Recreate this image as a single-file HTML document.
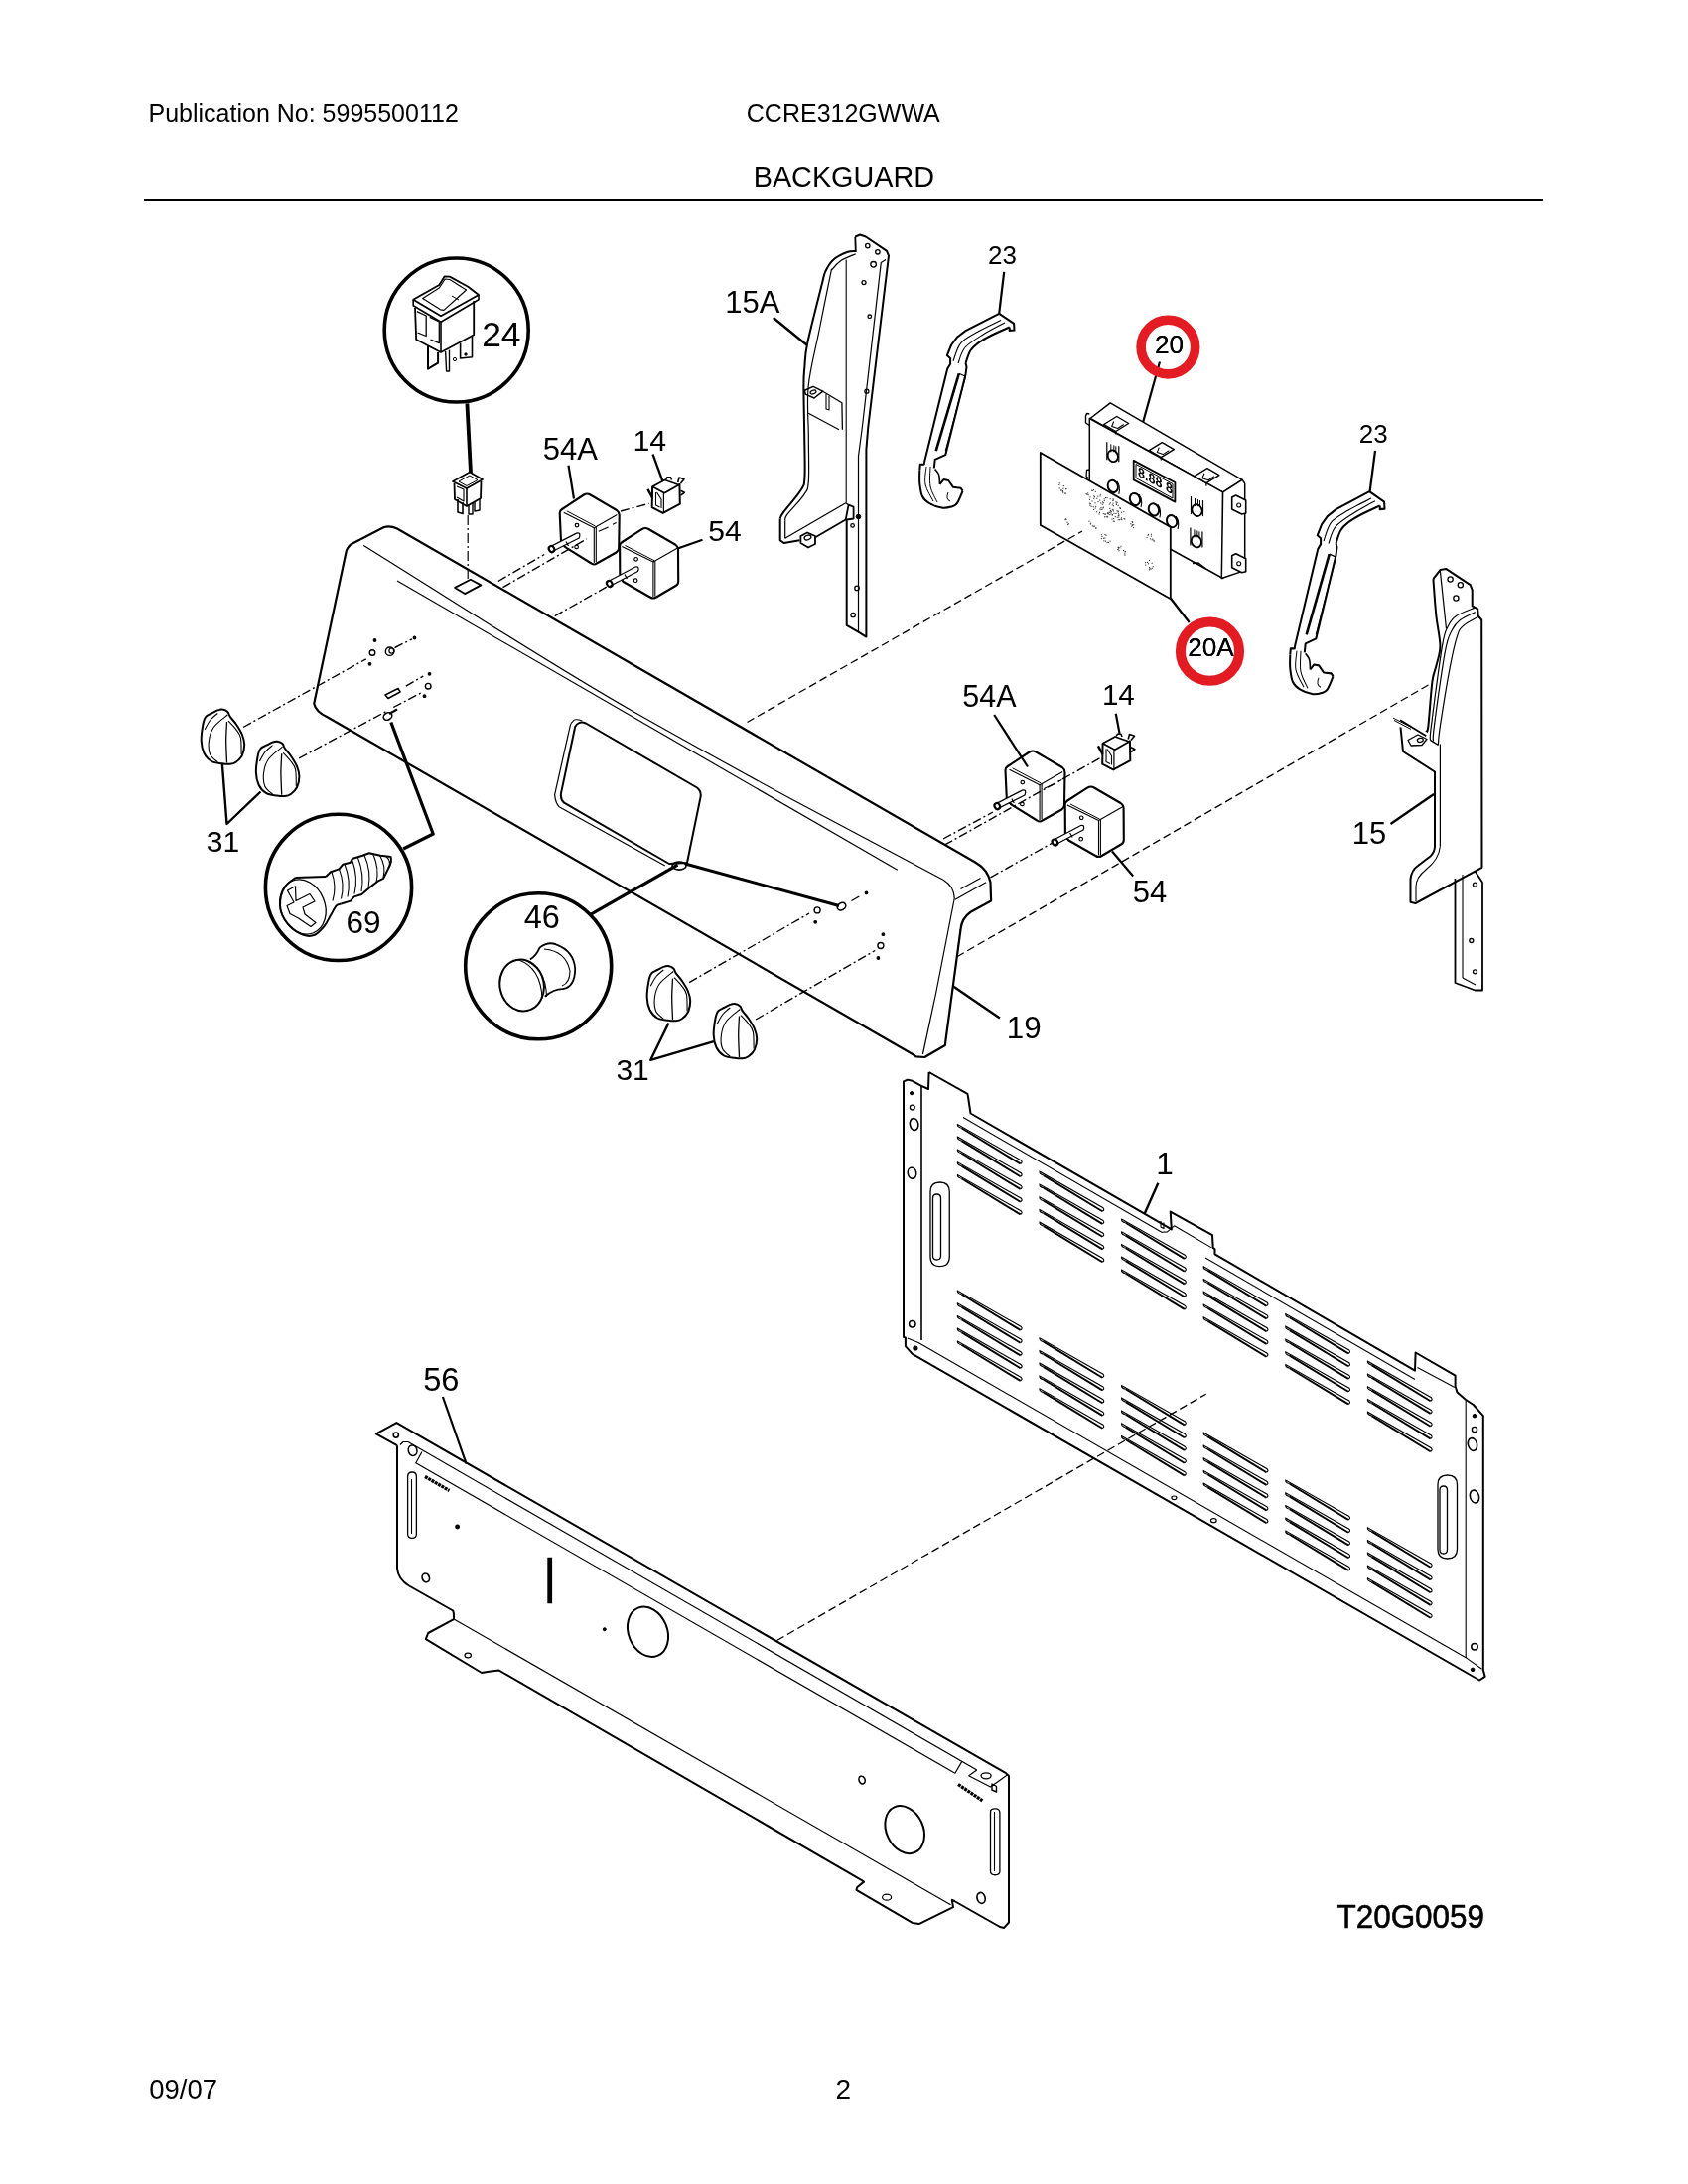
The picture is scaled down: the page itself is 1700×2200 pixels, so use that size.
<!DOCTYPE html>
<html><head><meta charset="utf-8"><title>Backguard</title>
<style>
html,body{margin:0;padding:0;background:#fff;}
body{width:1700px;height:2200px;overflow:hidden;}
svg{display:block;}
text{font-family:"Liberation Sans",sans-serif;}
svg{will-change:transform;}
</style></head><body>
<svg width="1700" height="2200" viewBox="0 0 1700 2200">
<rect x="0" y="0" width="1700" height="2200" fill="#fff"/>
<text x="149.5" y="123.0" font-size="25" font-weight="normal" fill="#000">Publication No: 5995500112</text>
<text x="751.8" y="123.0" font-size="25" font-weight="normal" fill="#000">CCRE312GWWA</text>
<text x="758.7" y="188.2" font-size="28.8" font-weight="normal" fill="#000">BACKGUARD</text>
<rect x="145" y="200" width="1409" height="2" fill="#000"/>
<text x="150.2" y="2114.0" font-size="27.5" font-weight="normal" fill="#000">09/07</text>
<text x="841.6" y="2114.0" font-size="28" font-weight="normal" fill="#000">2</text>
<text x="1346.5" y="1941.6" font-size="33.5" textLength="148.5" lengthAdjust="spacingAndGlyphs" stroke="#000" stroke-width="0.6" fill="#000">T20G0059</text>
<text x="485.2" y="348.6" font-size="35.4" font-weight="normal" fill="#000">24</text>
<text x="730.3" y="315.0" font-size="31" font-weight="normal" fill="#000">15A</text>
<text x="546.8" y="462.5" font-size="31" font-weight="normal" fill="#000">54A</text>
<text x="637.4" y="454.0" font-size="30.3" font-weight="normal" fill="#000">14</text>
<text x="713.3" y="545.0" font-size="30" font-weight="normal" fill="#000">54</text>
<text x="995.0" y="266.2" font-size="26" font-weight="normal" fill="#000">23</text>
<text x="1162.9" y="355.7" font-size="26.2" font-weight="normal" fill="#000">20</text>
<text x="1368.7" y="446.2" font-size="26" font-weight="normal" fill="#000">23</text>
<text x="1196.2" y="661.4" font-size="26.2" font-weight="normal" fill="#000">20A</text>
<text x="969.3" y="712.0" font-size="30.5" font-weight="normal" fill="#000">54A</text>
<text x="1109.9" y="709.5" font-size="29.6" font-weight="normal" fill="#000">14</text>
<text x="1140.8" y="908.8" font-size="31" font-weight="normal" fill="#000">54</text>
<text x="1361.8" y="850.0" font-size="31" font-weight="normal" fill="#000">15</text>
<text x="207.8" y="857.5" font-size="30" font-weight="normal" fill="#000">31</text>
<text x="348.4" y="940.0" font-size="31.5" font-weight="normal" fill="#000">69</text>
<text x="527.8" y="934.9" font-size="32.5" font-weight="normal" fill="#000">46</text>
<text x="1013.8" y="1045.6" font-size="31.4" font-weight="normal" fill="#000">19</text>
<text x="620.4" y="1087.5" font-size="30" font-weight="normal" fill="#000">31</text>
<text x="1164.3" y="1182.8" font-size="31.5" font-weight="normal" fill="#000">1</text>
<text x="426.2" y="1400.9" font-size="32.7" font-weight="normal" fill="#000">56</text>
<circle cx="459.7" cy="332.5" r="72.5" fill="none" stroke="#000" stroke-width="3.6"/>
<circle cx="341.0" cy="893.9" r="73.6" fill="none" stroke="#000" stroke-width="3.6"/>
<circle cx="542.2" cy="973.3" r="73.5" fill="none" stroke="#000" stroke-width="3.6"/>
<path d="M400,532.5 L982.5,868.75 Q995,876 997.5,888.75 L998.1,907.5 L977.5,918.75 Q968.5,925 967.5,936.25 L952.5,1047.5 L951.9,1053 L931.25,1065 L922.5,1064.4 L920,1062.5 L330,722.5 Q318,717 316.25,708.75 L348.75,555 Q351,549.5 355,547.5 L386.3,531.3 Q392.5,529 400,532.5 Z" fill="none" stroke="#000" stroke-width="2.2" stroke-linejoin="round" />
<path d="M366.3,549.4 C470,614 562,674 640,718 S762,786 800,806.5 L950,886.25 Q961,893 961.25,905 L942.5,1001 L929.4,1062" fill="none" stroke="#000" stroke-width="1.2" stroke-linejoin="round" />
<line x1="400.0" y1="585.0" x2="903.8" y2="876.2" stroke="#000" stroke-width="1.2" />
<line x1="967.5" y1="895.6" x2="987.5" y2="884.4" stroke="#000" stroke-width="1.2" />
<line x1="961.9" y1="906.2" x2="993.0" y2="888.8" stroke="#000" stroke-width="1.2" />
<path d="M583.2,728.1 Q586,726.5 590,728.5 L702,793.5 Q706.5,797 705.6,802.6 L692,869 L673.9,870 L568.1,808.7 Q564,805 565.1,798.6 L579.2,732 Q580.5,729 583.2,728.1 Z" fill="none" stroke="#000" stroke-width="2.0" stroke-linejoin="round" />
<path d="M586.3,726 Q579,723.5 577.2,726.1 Q575,728 574.2,731.1 L558.6,800.6 Q559.5,809 563.1,812.7 L669.8,872.1" fill="none" stroke="#000" stroke-width="1.2" stroke-linejoin="round" />
<g transform="translate(0,0)">
<path d="M223.9,769.3 C220.8,768.8 216.2,768.8 213.1,767.0 C210.0,765.2 207.1,762.0 205.4,758.5 C203.7,755.0 202.9,750.8 202.7,746.2 C202.5,741.6 203.5,734.8 204.2,730.8 C204.9,726.8 205.4,724.3 206.9,722.3 C208.4,720.2 211.0,719.6 213.1,718.5 C215.2,717.4 217.5,716.0 219.3,715.4 C221.1,714.8 222.2,714.4 223.9,714.6 C225.6,714.9 228.0,715.7 229.3,716.9 C230.6,718.1 230.2,719.5 231.6,721.6 C233.0,723.7 235.6,726.2 237.7,729.3 C239.8,732.4 242.5,736.5 243.9,740.0 C245.3,743.5 246.2,746.5 246.2,750.0 C246.2,753.5 245.3,757.8 243.9,760.8 C242.5,763.8 239.8,766.3 237.7,767.8 C235.6,769.3 233.9,769.5 231.6,769.7 C229.3,770.0 227.0,769.8 223.9,769.3 Z" fill="#fff" stroke="#000" stroke-width="2.0" stroke-linejoin="round" />
<path d="M229.3,720.0 C227.0,722.0 218.6,727.9 215.4,732.3 C212.2,736.7 211.0,741.6 210.4,746.2 C209.8,750.8 210.1,756.4 211.6,760.0 C213.1,763.6 218.0,766.5 219.3,767.8 " fill="none" stroke="#000" stroke-width="1.1" stroke-linejoin="round" />
<path d="M228.5,727.0 C228.4,730.2 227.7,739.3 227.7,746.2 C227.7,753.1 228.4,764.8 228.5,768.5 " fill="none" stroke="#000" stroke-width="1.3" stroke-linejoin="round" />
<path d="M230.0,726.2 C231.3,727.6 235.6,731.9 237.7,734.7 C239.8,737.5 241.5,738.9 242.4,743.1 C243.3,747.3 243.0,757.2 243.1,760.0 " fill="none" stroke="#000" stroke-width="1.1" stroke-linejoin="round" />
<path d="M206.2,734.7 C207.2,733.1 209.8,727.7 212.0,725.0 C214.2,722.3 218.1,719.6 219.3,718.5 " fill="none" stroke="#000" stroke-width="1.1" stroke-linejoin="round" />
</g>
<g transform="translate(55.2,32.2)">
<path d="M223.9,769.3 C220.8,768.8 216.2,768.8 213.1,767.0 C210.0,765.2 207.1,762.0 205.4,758.5 C203.7,755.0 202.9,750.8 202.7,746.2 C202.5,741.6 203.5,734.8 204.2,730.8 C204.9,726.8 205.4,724.3 206.9,722.3 C208.4,720.2 211.0,719.6 213.1,718.5 C215.2,717.4 217.5,716.0 219.3,715.4 C221.1,714.8 222.2,714.4 223.9,714.6 C225.6,714.9 228.0,715.7 229.3,716.9 C230.6,718.1 230.2,719.5 231.6,721.6 C233.0,723.7 235.6,726.2 237.7,729.3 C239.8,732.4 242.5,736.5 243.9,740.0 C245.3,743.5 246.2,746.5 246.2,750.0 C246.2,753.5 245.3,757.8 243.9,760.8 C242.5,763.8 239.8,766.3 237.7,767.8 C235.6,769.3 233.9,769.5 231.6,769.7 C229.3,770.0 227.0,769.8 223.9,769.3 Z" fill="#fff" stroke="#000" stroke-width="2.0" stroke-linejoin="round" />
<path d="M229.3,720.0 C227.0,722.0 218.6,727.9 215.4,732.3 C212.2,736.7 211.0,741.6 210.4,746.2 C209.8,750.8 210.1,756.4 211.6,760.0 C213.1,763.6 218.0,766.5 219.3,767.8 " fill="none" stroke="#000" stroke-width="1.1" stroke-linejoin="round" />
<path d="M228.5,727.0 C228.4,730.2 227.7,739.3 227.7,746.2 C227.7,753.1 228.4,764.8 228.5,768.5 " fill="none" stroke="#000" stroke-width="1.3" stroke-linejoin="round" />
<path d="M230.0,726.2 C231.3,727.6 235.6,731.9 237.7,734.7 C239.8,737.5 241.5,738.9 242.4,743.1 C243.3,747.3 243.0,757.2 243.1,760.0 " fill="none" stroke="#000" stroke-width="1.1" stroke-linejoin="round" />
<path d="M206.2,734.7 C207.2,733.1 209.8,727.7 212.0,725.0 C214.2,722.3 218.1,719.6 219.3,718.5 " fill="none" stroke="#000" stroke-width="1.1" stroke-linejoin="round" />
</g>
<g transform="translate(449,258.5)">
<path d="M223.9,769.3 C220.8,768.8 216.2,768.8 213.1,767.0 C210.0,765.2 207.1,762.0 205.4,758.5 C203.7,755.0 202.9,750.8 202.7,746.2 C202.5,741.6 203.5,734.8 204.2,730.8 C204.9,726.8 205.4,724.3 206.9,722.3 C208.4,720.2 211.0,719.6 213.1,718.5 C215.2,717.4 217.5,716.0 219.3,715.4 C221.1,714.8 222.2,714.4 223.9,714.6 C225.6,714.9 228.0,715.7 229.3,716.9 C230.6,718.1 230.2,719.5 231.6,721.6 C233.0,723.7 235.6,726.2 237.7,729.3 C239.8,732.4 242.5,736.5 243.9,740.0 C245.3,743.5 246.2,746.5 246.2,750.0 C246.2,753.5 245.3,757.8 243.9,760.8 C242.5,763.8 239.8,766.3 237.7,767.8 C235.6,769.3 233.9,769.5 231.6,769.7 C229.3,770.0 227.0,769.8 223.9,769.3 Z" fill="#fff" stroke="#000" stroke-width="2.0" stroke-linejoin="round" />
<path d="M229.3,720.0 C227.0,722.0 218.6,727.9 215.4,732.3 C212.2,736.7 211.0,741.6 210.4,746.2 C209.8,750.8 210.1,756.4 211.6,760.0 C213.1,763.6 218.0,766.5 219.3,767.8 " fill="none" stroke="#000" stroke-width="1.1" stroke-linejoin="round" />
<path d="M228.5,727.0 C228.4,730.2 227.7,739.3 227.7,746.2 C227.7,753.1 228.4,764.8 228.5,768.5 " fill="none" stroke="#000" stroke-width="1.3" stroke-linejoin="round" />
<path d="M230.0,726.2 C231.3,727.6 235.6,731.9 237.7,734.7 C239.8,737.5 241.5,738.9 242.4,743.1 C243.3,747.3 243.0,757.2 243.1,760.0 " fill="none" stroke="#000" stroke-width="1.1" stroke-linejoin="round" />
<path d="M206.2,734.7 C207.2,733.1 209.8,727.7 212.0,725.0 C214.2,722.3 218.1,719.6 219.3,718.5 " fill="none" stroke="#000" stroke-width="1.1" stroke-linejoin="round" />
</g>
<g transform="translate(516,296.5)">
<path d="M223.9,769.3 C220.8,768.8 216.2,768.8 213.1,767.0 C210.0,765.2 207.1,762.0 205.4,758.5 C203.7,755.0 202.9,750.8 202.7,746.2 C202.5,741.6 203.5,734.8 204.2,730.8 C204.9,726.8 205.4,724.3 206.9,722.3 C208.4,720.2 211.0,719.6 213.1,718.5 C215.2,717.4 217.5,716.0 219.3,715.4 C221.1,714.8 222.2,714.4 223.9,714.6 C225.6,714.9 228.0,715.7 229.3,716.9 C230.6,718.1 230.2,719.5 231.6,721.6 C233.0,723.7 235.6,726.2 237.7,729.3 C239.8,732.4 242.5,736.5 243.9,740.0 C245.3,743.5 246.2,746.5 246.2,750.0 C246.2,753.5 245.3,757.8 243.9,760.8 C242.5,763.8 239.8,766.3 237.7,767.8 C235.6,769.3 233.9,769.5 231.6,769.7 C229.3,770.0 227.0,769.8 223.9,769.3 Z" fill="#fff" stroke="#000" stroke-width="2.0" stroke-linejoin="round" />
<path d="M229.3,720.0 C227.0,722.0 218.6,727.9 215.4,732.3 C212.2,736.7 211.0,741.6 210.4,746.2 C209.8,750.8 210.1,756.4 211.6,760.0 C213.1,763.6 218.0,766.5 219.3,767.8 " fill="none" stroke="#000" stroke-width="1.1" stroke-linejoin="round" />
<path d="M228.5,727.0 C228.4,730.2 227.7,739.3 227.7,746.2 C227.7,753.1 228.4,764.8 228.5,768.5 " fill="none" stroke="#000" stroke-width="1.3" stroke-linejoin="round" />
<path d="M230.0,726.2 C231.3,727.6 235.6,731.9 237.7,734.7 C239.8,737.5 241.5,738.9 242.4,743.1 C243.3,747.3 243.0,757.2 243.1,760.0 " fill="none" stroke="#000" stroke-width="1.1" stroke-linejoin="round" />
<path d="M206.2,734.7 C207.2,733.1 209.8,727.7 212.0,725.0 C214.2,722.3 218.1,719.6 219.3,718.5 " fill="none" stroke="#000" stroke-width="1.1" stroke-linejoin="round" />
</g>
<polyline points="223.9,770.0 228.5,830.0 262.5,797.5" fill="none" stroke="#000" stroke-width="2.4" stroke-linejoin="round" />
<polyline points="673.4,1030.5 655.3,1067.8 718.8,1049.1" fill="none" stroke="#000" stroke-width="2.4" stroke-linejoin="round" />
<line x1="245.0" y1="732.5" x2="368.8" y2="663.8" stroke="#000" stroke-width="1.4" stroke-dasharray="9,3,2,3"/>
<line x1="301.2" y1="763.8" x2="390.0" y2="716.0" stroke="#000" stroke-width="1.4" stroke-dasharray="9,3,2,3"/>
<line x1="397.5" y1="652.5" x2="415.0" y2="643.8" stroke="#000" stroke-width="1.4" stroke-dasharray="9,3,2,3"/>
<line x1="408.8" y1="691.2" x2="426.2" y2="681.2" stroke="#000" stroke-width="1.4" stroke-dasharray="9,3,2,3"/>
<line x1="396.2" y1="712.5" x2="425.0" y2="697.5" stroke="#000" stroke-width="1.4" stroke-dasharray="9,3,2,3"/>
<line x1="694.1" y1="989.7" x2="815.0" y2="920.0" stroke="#000" stroke-width="1.4" stroke-dasharray="9,3,2,3"/>
<line x1="761.1" y1="1027.0" x2="881.2" y2="957.5" stroke="#000" stroke-width="1.4" stroke-dasharray="9,3,2,3"/>
<line x1="857.5" y1="907.5" x2="866.2" y2="902.5" stroke="#000" stroke-width="1.4" stroke-dasharray="9,3,2,3"/>
<circle cx="377.5" cy="645.0" r="1.3" fill="#000" stroke="#000" stroke-width="1.2"/>
<circle cx="372.5" cy="668.8" r="1.3" fill="#000" stroke="#000" stroke-width="1.2"/>
<circle cx="417.5" cy="642.5" r="1.3" fill="#000" stroke="#000" stroke-width="1.2"/>
<circle cx="432.5" cy="678.8" r="1.3" fill="#000" stroke="#000" stroke-width="1.2"/>
<circle cx="427.5" cy="701.2" r="1.3" fill="#000" stroke="#000" stroke-width="1.2"/>
<circle cx="872.5" cy="899.4" r="1.3" fill="#000" stroke="#000" stroke-width="1.2"/>
<circle cx="821.2" cy="928.8" r="1.3" fill="#000" stroke="#000" stroke-width="1.2"/>
<circle cx="889.4" cy="941.2" r="1.3" fill="#000" stroke="#000" stroke-width="1.2"/>
<circle cx="884.4" cy="965.0" r="1.3" fill="#000" stroke="#000" stroke-width="1.2"/>
<circle cx="375.0" cy="657.5" r="2.8" fill="none" stroke="#000" stroke-width="1.4"/>
<circle cx="431.2" cy="691.2" r="2.8" fill="none" stroke="#000" stroke-width="1.4"/>
<circle cx="823.1" cy="916.9" r="3.0" fill="none" stroke="#000" stroke-width="1.4"/>
<circle cx="886.9" cy="952.5" r="3.0" fill="none" stroke="#000" stroke-width="1.4"/>
<circle cx="392.5" cy="656.2" r="4.2" fill="none" stroke="#000" stroke-width="1.4"/>
<circle cx="394.5" cy="655.6" r="2.6" fill="none" stroke="#000" stroke-width="1.2"/>
<path d="M388,700 L401,693.5 L403,697 L391,703.5 Z" fill="none" stroke="#000" stroke-width="1.6" stroke-linejoin="round" />
<ellipse cx="390.5" cy="721.5" rx="4.5" ry="3.5" transform="rotate(-30 390.5 721.5)" fill="none" stroke="#000" stroke-width="1.6"/>
<path d="M392,719 L400,714.5" fill="none" stroke="#000" stroke-width="2.2" stroke-linejoin="round" />
<ellipse cx="847.5" cy="913.1" rx="4.5" ry="3.5" transform="rotate(-30 847.5 913.1)" fill="none" stroke="#000" stroke-width="1.6"/>
<ellipse cx="684.0" cy="872.1" rx="7.0" ry="4.0" transform="rotate(0 684.0 872.1)" fill="none" stroke="#000" stroke-width="1.6"/>
<polyline points="470.4,406.4 474.0,476.0" fill="none" stroke="#000" stroke-width="3.8" stroke-linejoin="round" />
<polyline points="406.2,855.0 436.2,840.0 393.8,727.5" fill="none" stroke="#000" stroke-width="3.2" stroke-linejoin="round" />
<polyline points="595.0,921.2 682.5,871.2" fill="none" stroke="#000" stroke-width="3.2" stroke-linejoin="round" />
<polyline points="690.0,870.0 845.0,912.5" fill="none" stroke="#000" stroke-width="3.0" stroke-linejoin="round" />
<path d="M297.9,883.9 C296.2,885.2 290.5,888.7 288.0,892.0 C285.5,895.3 283.5,899.3 282.7,903.8 C281.9,908.3 281.6,914.1 283.2,919.0 C284.8,923.9 288.3,929.2 292.0,933.0 C295.7,936.8 301.4,940.3 305.5,941.8 C309.6,943.3 313.4,943.2 316.9,941.8 C320.4,940.4 323.7,936.5 326.4,933.2 C329.1,929.9 330.9,925.5 333.0,922.0 C335.1,918.5 337.0,914.3 338.7,912.4 C340.4,910.5 342.6,910.8 343.4,910.5 " fill="none" stroke="#000" stroke-width="2.0" stroke-linejoin="round" />
<line x1="297.9" y1="883.9" x2="328.2" y2="883.0" stroke="#000" stroke-width="2.0" />
<ellipse cx="305.0" cy="913.5" rx="22.3" ry="28.3" transform="rotate(-22 305.0 913.5)" fill="none" stroke="#000" stroke-width="1.3"/>
<polygon points="289.5,897.0 297.5,892.8 298.0,907.5 312.0,900.5 317.0,908.0 305.0,914.0 307.0,921.0 318.0,929.5 313.0,933.5 300.5,925.0 292.0,920.5 289.0,912.5 296.0,909.0" fill="none" stroke="#000" stroke-width="1.2" stroke-linejoin="round" />
<polyline points="328.2,883.0 333.0,878.2 341.5,875.4 345.3,870.7 352.9,868.8 354.8,865.0 365.2,861.7 371.8,859.3 383.2,861.7 393.6,863.1 394.1,866.9" fill="none" stroke="#000" stroke-width="2.0" stroke-linejoin="round" />
<polyline points="394.1,866.9 392.7,871.6 386.1,884.9 380.4,887.7 371.8,894.4 364.3,901.0 356.7,903.4 352.9,907.6 343.4,910.5" fill="none" stroke="#000" stroke-width="2.0" stroke-linejoin="round" />
<path d="M333.9,878.0 Q339.4,892.8 335.0,907.5" fill="none" stroke="#000" stroke-width="1.1" stroke-linejoin="round" />
<path d="M341.5,875.4 Q347.5,890.5 343.5,905.5" fill="none" stroke="#000" stroke-width="1.1" stroke-linejoin="round" />
<path d="M347.2,871.0 Q353.6,887.2 350.0,903.5" fill="none" stroke="#000" stroke-width="1.1" stroke-linejoin="round" />
<path d="M354.8,866.5 Q360.9,883.5 357.0,900.5" fill="none" stroke="#000" stroke-width="1.1" stroke-linejoin="round" />
<path d="M360.5,864.0 Q367.2,881.0 364.0,898.0" fill="none" stroke="#000" stroke-width="1.1" stroke-linejoin="round" />
<path d="M367.1,861.5 Q374.1,877.8 371.0,894.0" fill="none" stroke="#000" stroke-width="1.1" stroke-linejoin="round" />
<path d="M375.6,860.0 Q382.3,874.5 379.0,889.0" fill="none" stroke="#000" stroke-width="1.1" stroke-linejoin="round" />
<path d="M382.3,861.3 Q389.1,872.6 386.0,884.0" fill="none" stroke="#000" stroke-width="1.1" stroke-linejoin="round" />
<path d="M388.9,862.5 Q394.9,868.2 391.0,874.0" fill="none" stroke="#000" stroke-width="1.1" stroke-linejoin="round" />
<path d="M533.9,966.4 Q540,963 543.5,954.6 Q552,948 560,951.4 Q578,958 579.2,976 Q579,994 567,996.2 Q558,996 548.8,1003.7" fill="none" stroke="#000" stroke-width="1.8" stroke-linejoin="round" />
<path d="M548,956 Q570,958 574,978 Q574,990 566,993" fill="none" stroke="#000" stroke-width="1.1" stroke-linejoin="round" />
<ellipse cx="525.6" cy="992.5" rx="22.1" ry="26.1" transform="rotate(-12 525.6 992.5)" fill="#fff" stroke="#000" stroke-width="2.0"/>
<path d="M522,966.8 Q545,975 546,1006" fill="none" stroke="#000" stroke-width="1.1" stroke-linejoin="round" />
<path d="M527,966.5 Q550,975 550.5,1004" fill="none" stroke="#000" stroke-width="1.1" stroke-linejoin="round" />
<polygon points="416.2,301.8 442.3,287.0 447.6,278.5 452.9,278.6 471.3,288.7 482.0,297.0 444.0,318.3" fill="none" stroke="#000" stroke-width="1.8" stroke-linejoin="round" />
<polygon points="425.7,300.6 442.3,290.0 448.2,281.0 452.9,281.5 469.5,292.0 447.0,312.4 443.5,311.8" fill="none" stroke="#000" stroke-width="1.2" stroke-linejoin="round" />
<line x1="455.0" y1="298.0" x2="462.0" y2="302.0" stroke="#000" stroke-width="1.0" />
<polyline points="416.2,301.8 416.2,307.7 444.0,324.3 482.0,301.8 482.0,297.0" fill="none" stroke="#000" stroke-width="1.6" stroke-linejoin="round" />
<polyline points="418.0,310.0 419.2,342.0 444.0,355.0 477.2,337.3 477.2,303.0" fill="none" stroke="#000" stroke-width="1.8" stroke-linejoin="round" />
<line x1="444.0" y1="324.3" x2="444.0" y2="355.0" stroke="#000" stroke-width="1.6" />
<polyline points="419.8,313.6 429.2,318.0 429.2,338.5 420.5,335.0" fill="none" stroke="#000" stroke-width="1.3" stroke-linejoin="round" />
<polyline points="432.8,319.3 442.3,324.0 442.3,345.6 433.5,342.0" fill="none" stroke="#000" stroke-width="1.3" stroke-linejoin="round" />
<polyline points="431.0,349.1 431.0,371.7 441.1,365.7 441.1,355.0" fill="none" stroke="#000" stroke-width="2.0" stroke-linejoin="round" />
<polyline points="448.6,354.0 449.6,374.0 452.5,374.0 452.5,352.5" fill="none" stroke="#000" stroke-width="1.4" stroke-linejoin="round" />
<polyline points="463.6,345.6 463.6,361.0 475.5,359.8 475.5,338.5" fill="none" stroke="#000" stroke-width="1.6" stroke-linejoin="round" />
<circle cx="469.0" cy="357.0" r="1.2" fill="#000" stroke="#000" stroke-width="1.0"/>
<circle cx="458.0" cy="362.0" r="1.6" fill="none" stroke="#000" stroke-width="1.0"/>
<polygon points="456.0,485.0 473.0,475.5 486.0,483.0 470.0,492.0" fill="none" stroke="#000" stroke-width="1.8" stroke-linejoin="round" />
<polygon points="462.0,485.0 473.0,479.0 481.0,483.5 470.0,489.5" fill="none" stroke="#000" stroke-width="1.0" stroke-linejoin="round" />
<polyline points="457.5,487.0 458.0,503.0 470.0,510.0 484.0,502.0 484.5,485.0" fill="none" stroke="#000" stroke-width="1.8" stroke-linejoin="round" />
<line x1="470.0" y1="492.0" x2="470.0" y2="510.0" stroke="#000" stroke-width="1.6" />
<polyline points="461.0,503.0 461.0,516.0 466.0,517.5 466.0,506.0" fill="none" stroke="#000" stroke-width="1.6" stroke-linejoin="round" />
<polyline points="472.0,508.0 472.0,518.0 476.0,518.0 476.0,506.0" fill="none" stroke="#000" stroke-width="1.4" stroke-linejoin="round" />
<polyline points="478.0,505.0 478.0,515.0 483.0,514.0 483.0,503.0" fill="none" stroke="#000" stroke-width="1.4" stroke-linejoin="round" />
<polyline points="460.0,490.0 467.0,493.0 467.0,505.0 460.0,501.0" fill="none" stroke="#000" stroke-width="1.1" stroke-linejoin="round" />
<line x1="471.2" y1="519.0" x2="471.2" y2="584.0" stroke="#000" stroke-width="1.2" stroke-dasharray="10,3,2,3"/>
<polygon points="458.1,591.9 473.8,583.8 484.4,589.4 468.1,598.1" fill="none" stroke="#000" stroke-width="1.8" stroke-linejoin="round" />
<g transform="translate(0,0)">
<path d="M588,498.5 Q591.2,496.5 594.5,498.5 L621,514 Q623.7,516 623.7,519 L623.2,552 Q623,555 620.5,556.5 L601,567.5 Q598.3,569.5 595.5,567.5 L570.8,552.2 Q566,549 565,545 L563.7,517 Q563.7,514.5 566,513 Z" fill="#fff" stroke="#000" stroke-width="2.1" stroke-linejoin="round" />
<polyline points="567.7,516.2 598.3,531.8 621.4,518.4" fill="none" stroke="#000" stroke-width="1.1" stroke-linejoin="round" />
<polyline points="570.8,514.8 599.5,530.0" fill="none" stroke="#000" stroke-width="1.0" stroke-linejoin="round" />
<line x1="598.3" y1="531.8" x2="598.3" y2="567.0" stroke="#000" stroke-width="1.1" />
<line x1="600.3" y1="530.8" x2="600.3" y2="566.5" stroke="#000" stroke-width="1.1" />
<line x1="602.8" y1="535.3" x2="612.6" y2="530.9" stroke="#000" stroke-width="1.1" />
<line x1="617.0" y1="528.2" x2="620.6" y2="526.4" stroke="#000" stroke-width="1.1" />
<circle cx="581.0" cy="529.1" r="1.8" fill="none" stroke="#000" stroke-width="1.2"/>
<circle cx="580.6" cy="550.9" r="1.8" fill="none" stroke="#000" stroke-width="1.2"/>
<path d="M554.8,550.4 L580.6,537.1 Q584.5,536 583.8,540 L583.2,542 L555.7,555.8" fill="#fff" stroke="#000" stroke-width="1.2" stroke-linejoin="round" />
<ellipse cx="555.5" cy="553.1" rx="2.6" ry="3.2" transform="rotate(-30 555.5 553.1)" fill="none" stroke="#000" stroke-width="2.2"/>
<line x1="570.0" y1="545.5" x2="572.5" y2="550.0" stroke="#000" stroke-width="1.2" />
</g>
<g transform="translate(0,0)">
<path d="M646.5,533.2 Q649.9,531 653.3,533 L680,548.5 Q683,550.5 683,553.5 L683.2,585.5 Q683.2,588.5 680.5,590 L661,601.5 Q657.9,603.5 654.8,601.5 L627.7,586 Q624.5,583 624.3,579 L624.1,550 Q624.1,547.5 626.5,546 Z" fill="#fff" stroke="#000" stroke-width="2.1" stroke-linejoin="round" />
<polyline points="626.3,550.4 657.9,566.0 682.0,552.3" fill="none" stroke="#000" stroke-width="1.1" stroke-linejoin="round" />
<polyline points="629.5,549.5 659.0,564.7" fill="none" stroke="#000" stroke-width="1.0" stroke-linejoin="round" />
<line x1="657.9" y1="566.0" x2="657.9" y2="601.0" stroke="#000" stroke-width="1.1" />
<line x1="659.8" y1="565.0" x2="659.8" y2="600.5" stroke="#000" stroke-width="1.1" />
<circle cx="640.6" cy="563.3" r="1.8" fill="none" stroke="#000" stroke-width="1.2"/>
<circle cx="640.1" cy="584.7" r="1.8" fill="none" stroke="#000" stroke-width="1.2"/>
<path d="M613.5,585 L640,571 Q643.5,570 643,574 L642.4,575.5 L614,590.5" fill="#fff" stroke="#000" stroke-width="1.2" stroke-linejoin="round" />
<ellipse cx="613.8" cy="588.0" rx="2.6" ry="3.2" transform="rotate(-30 613.8 588.0)" fill="none" stroke="#000" stroke-width="2.2"/>
<line x1="629.0" y1="578.5" x2="631.5" y2="583.0" stroke="#000" stroke-width="1.2" />
</g>
<g transform="translate(0,0)">
<polygon points="657.1,490.3 669.5,483.5 683.7,488.5 669.2,496.7" fill="#fff" stroke="#000" stroke-width="1.8" stroke-linejoin="round" />
<polyline points="657.1,490.3 656.7,511.2 667.7,516.9 684.8,507.7 684.4,487.1" fill="none" stroke="#000" stroke-width="2.0" stroke-linejoin="round" />
<line x1="668.4" y1="496.7" x2="668.4" y2="516.9" stroke="#000" stroke-width="1.2" />
<polyline points="670.6,483.0 672.0,480.7 675.5,480.7 676.5,483.5" fill="none" stroke="#000" stroke-width="1.6" stroke-linejoin="round" />
<polyline points="682.7,486.0 684.0,481.0 689.0,482.8 685.5,487.0" fill="none" stroke="#000" stroke-width="1.6" stroke-linejoin="round" />
<polyline points="652.4,492.8 657.1,501.3" fill="none" stroke="#000" stroke-width="2.4" stroke-linejoin="round" />
<polyline points="685.5,494.2 689.4,496.3 685.5,499.0" fill="none" stroke="#000" stroke-width="1.6" stroke-linejoin="round" />
<polyline points="660.5,496.0 660.5,509.0 664.5,511.0" fill="none" stroke="#000" stroke-width="1.1" stroke-linejoin="round" />
<polyline points="661.5,496.0 666.0,503.0 666.0,512.0" fill="none" stroke="#000" stroke-width="1.1" stroke-linejoin="round" />
</g>
<g transform="translate(448.8,259)">
<path d="M588,498.5 Q591.2,496.5 594.5,498.5 L621,514 Q623.7,516 623.7,519 L623.2,552 Q623,555 620.5,556.5 L601,567.5 Q598.3,569.5 595.5,567.5 L570.8,552.2 Q566,549 565,545 L563.7,517 Q563.7,514.5 566,513 Z" fill="#fff" stroke="#000" stroke-width="2.1" stroke-linejoin="round" />
<polyline points="567.7,516.2 598.3,531.8 621.4,518.4" fill="none" stroke="#000" stroke-width="1.1" stroke-linejoin="round" />
<polyline points="570.8,514.8 599.5,530.0" fill="none" stroke="#000" stroke-width="1.0" stroke-linejoin="round" />
<line x1="598.3" y1="531.8" x2="598.3" y2="567.0" stroke="#000" stroke-width="1.1" />
<line x1="600.3" y1="530.8" x2="600.3" y2="566.5" stroke="#000" stroke-width="1.1" />
<line x1="602.8" y1="535.3" x2="612.6" y2="530.9" stroke="#000" stroke-width="1.1" />
<line x1="617.0" y1="528.2" x2="620.6" y2="526.4" stroke="#000" stroke-width="1.1" />
<circle cx="581.0" cy="529.1" r="1.8" fill="none" stroke="#000" stroke-width="1.2"/>
<circle cx="580.6" cy="550.9" r="1.8" fill="none" stroke="#000" stroke-width="1.2"/>
<path d="M554.8,550.4 L580.6,537.1 Q584.5,536 583.8,540 L583.2,542 L555.7,555.8" fill="#fff" stroke="#000" stroke-width="1.2" stroke-linejoin="round" />
<ellipse cx="555.5" cy="553.1" rx="2.6" ry="3.2" transform="rotate(-30 555.5 553.1)" fill="none" stroke="#000" stroke-width="2.2"/>
<line x1="570.0" y1="545.5" x2="572.5" y2="550.0" stroke="#000" stroke-width="1.2" />
</g>
<g transform="translate(448.6,260.5)">
<path d="M646.5,533.2 Q649.9,531 653.3,533 L680,548.5 Q683,550.5 683,553.5 L683.2,585.5 Q683.2,588.5 680.5,590 L661,601.5 Q657.9,603.5 654.8,601.5 L627.7,586 Q624.5,583 624.3,579 L624.1,550 Q624.1,547.5 626.5,546 Z" fill="#fff" stroke="#000" stroke-width="2.1" stroke-linejoin="round" />
<polyline points="626.3,550.4 657.9,566.0 682.0,552.3" fill="none" stroke="#000" stroke-width="1.1" stroke-linejoin="round" />
<polyline points="629.5,549.5 659.0,564.7" fill="none" stroke="#000" stroke-width="1.0" stroke-linejoin="round" />
<line x1="657.9" y1="566.0" x2="657.9" y2="601.0" stroke="#000" stroke-width="1.1" />
<line x1="659.8" y1="565.0" x2="659.8" y2="600.5" stroke="#000" stroke-width="1.1" />
<circle cx="640.6" cy="563.3" r="1.8" fill="none" stroke="#000" stroke-width="1.2"/>
<circle cx="640.1" cy="584.7" r="1.8" fill="none" stroke="#000" stroke-width="1.2"/>
<path d="M613.5,585 L640,571 Q643.5,570 643,574 L642.4,575.5 L614,590.5" fill="#fff" stroke="#000" stroke-width="1.2" stroke-linejoin="round" />
<ellipse cx="613.8" cy="588.0" rx="2.6" ry="3.2" transform="rotate(-30 613.8 588.0)" fill="none" stroke="#000" stroke-width="2.2"/>
<line x1="629.0" y1="578.5" x2="631.5" y2="583.0" stroke="#000" stroke-width="1.2" />
</g>
<g transform="translate(453.5,258.5)">
<polygon points="657.1,490.3 669.5,483.5 683.7,488.5 669.2,496.7" fill="#fff" stroke="#000" stroke-width="1.8" stroke-linejoin="round" />
<polyline points="657.1,490.3 656.7,511.2 667.7,516.9 684.8,507.7 684.4,487.1" fill="none" stroke="#000" stroke-width="2.0" stroke-linejoin="round" />
<line x1="668.4" y1="496.7" x2="668.4" y2="516.9" stroke="#000" stroke-width="1.2" />
<polyline points="670.6,483.0 672.0,480.7 675.5,480.7 676.5,483.5" fill="none" stroke="#000" stroke-width="1.6" stroke-linejoin="round" />
<polyline points="682.7,486.0 684.0,481.0 689.0,482.8 685.5,487.0" fill="none" stroke="#000" stroke-width="1.6" stroke-linejoin="round" />
<polyline points="652.4,492.8 657.1,501.3" fill="none" stroke="#000" stroke-width="2.4" stroke-linejoin="round" />
<polyline points="685.5,494.2 689.4,496.3 685.5,499.0" fill="none" stroke="#000" stroke-width="1.6" stroke-linejoin="round" />
<polyline points="660.5,496.0 660.5,509.0 664.5,511.0" fill="none" stroke="#000" stroke-width="1.1" stroke-linejoin="round" />
<polyline points="661.5,496.0 666.0,503.0 666.0,512.0" fill="none" stroke="#000" stroke-width="1.1" stroke-linejoin="round" />
</g>
<polyline points="572.5,468.8 578.0,502.5" fill="none" stroke="#000" stroke-width="2.2" stroke-linejoin="round" />
<polyline points="657.5,457.5 667.5,485.0" fill="none" stroke="#000" stroke-width="2.2" stroke-linejoin="round" />
<polyline points="682.5,552.5 707.5,543.8" fill="none" stroke="#000" stroke-width="2.2" stroke-linejoin="round" />
<polyline points="1001.2,720.0 1035.0,772.5" fill="none" stroke="#000" stroke-width="2.2" stroke-linejoin="round" />
<polyline points="1123.8,718.8 1127.5,738.8" fill="none" stroke="#000" stroke-width="2.2" stroke-linejoin="round" />
<polyline points="1120.0,857.5 1141.2,882.5" fill="none" stroke="#000" stroke-width="2.2" stroke-linejoin="round" />
<line x1="501.8" y1="585.5" x2="548.2" y2="558.5" stroke="#000" stroke-width="1.4" stroke-dasharray="9,3,2,3"/>
<line x1="506.5" y1="591.7" x2="590.9" y2="542.8" stroke="#000" stroke-width="1.4" stroke-dasharray="9,3,2,3"/>
<line x1="558.7" y1="620.6" x2="610.8" y2="591.2" stroke="#000" stroke-width="1.4" stroke-dasharray="9,3,2,3"/>
<line x1="625.0" y1="515.0" x2="653.5" y2="507.3" stroke="#000" stroke-width="1.4" stroke-dasharray="9,3,2,3"/>
<line x1="950.0" y1="845.0" x2="1000.0" y2="818.0" stroke="#000" stroke-width="1.4" stroke-dasharray="9,3,2,3"/>
<line x1="951.2" y1="851.2" x2="1110.0" y2="762.5" stroke="#000" stroke-width="1.4" stroke-dasharray="9,3,2,3"/>
<line x1="997.5" y1="883.8" x2="1060.0" y2="849.0" stroke="#000" stroke-width="1.4" stroke-dasharray="9,3,2,3"/>
<polyline points="861.3,238.5 866.2,236.5 871.9,238.5 893.1,252.9 895.0,257.7 874.3,430.0 872.4,452.6 872.4,641.6 864.5,636.7 852.7,629.8 852.7,523.5" fill="none" stroke="#000" stroke-width="2.0" stroke-linejoin="round" />
<polyline points="861.3,238.5 861.8,254.0" fill="none" stroke="#000" stroke-width="1.8" stroke-linejoin="round" />
<polyline points="892.1,261.5 887.3,264.4 868.4,430.0 864.5,459.5 864.5,636.7" fill="none" stroke="#000" stroke-width="1.2" stroke-linejoin="round" />
<line x1="852.2" y1="261.5" x2="852.2" y2="506.8" stroke="#000" stroke-width="1.1" />
<path d="M861.8,252.9 C860.4,253.1 857.3,252.5 853.7,253.8 C850.1,255.2 843.7,257.8 840.0,261.0 C836.3,264.2 833.5,268.8 831.5,273.0 C829.5,277.2 830.7,274.5 827.7,286.5 C824.7,298.5 816.2,331.4 813.3,345.2 C810.4,359.0 811.0,362.0 810.4,369.2 C809.8,376.4 809.4,376.7 809.4,388.5 C809.4,400.3 810.0,424.6 810.2,440.0 C810.4,455.4 811.0,472.2 810.4,481.2 C809.8,490.2 810.0,488.1 806.4,494.0 C802.8,499.9 792.2,511.9 788.7,516.6 C785.2,521.4 786.2,521.5 785.7,522.5 " fill="none" stroke="#000" stroke-width="2.0" stroke-linejoin="round" />
<polyline points="785.7,522.5 785.7,544.2 789.7,547.1 805.4,544.2" fill="none" stroke="#000" stroke-width="2.0" stroke-linejoin="round" />
<path d="M861.8,255.8 C859.3,256.9 850.8,259.9 846.9,262.5 C843.0,265.1 840.1,268.8 838.3,271.2 C836.5,273.6 838.5,266.6 836.3,276.9 C834.1,287.2 828.7,314.4 825.0,333.0 C821.3,351.6 816.0,370.7 814.2,388.5 C812.4,406.3 814.3,423.9 814.3,440.0 C814.3,456.1 815.1,475.3 814.3,485.1 C813.5,494.9 813.0,493.3 809.4,498.9 C805.8,504.5 795.7,514.3 792.6,518.6 C789.5,522.9 791.0,523.5 790.7,524.5 " fill="none" stroke="#000" stroke-width="1.2" stroke-linejoin="round" />
<line x1="790.7" y1="524.5" x2="790.7" y2="542.2" stroke="#000" stroke-width="1.2" />
<line x1="790.7" y1="542.2" x2="851.7" y2="506.8" stroke="#000" stroke-width="1.2" />
<polyline points="821.2,541.2 851.7,523.5 854.6,508.7 859.6,510.7 859.6,522.5 852.7,523.5" fill="none" stroke="#000" stroke-width="1.8" stroke-linejoin="round" />
<line x1="851.7" y1="506.8" x2="854.6" y2="508.7" stroke="#000" stroke-width="1.2" />
<polygon points="806.4,540.0 813.0,536.5 821.0,540.0 821.0,548.0 814.0,551.5 806.4,547.0" fill="none" stroke="#000" stroke-width="1.8" stroke-linejoin="round" />
<ellipse cx="813.5" cy="541.5" rx="3.5" ry="2.2" transform="rotate(-20 813.5 541.5)" fill="none" stroke="#000" stroke-width="1.3"/>
<polygon points="810.4,393.3 819.0,389.4 828.7,394.2 820.0,401.0 811.3,397.1" fill="none" stroke="#000" stroke-width="1.5" stroke-linejoin="round" />
<ellipse cx="819.0" cy="395.0" rx="3.0" ry="1.8" transform="rotate(-20 819.0 395.0)" fill="none" stroke="#000" stroke-width="1.3"/>
<polyline points="828.7,394.2 847.9,405.8 848.4,432.7" fill="none" stroke="#000" stroke-width="1.3" stroke-linejoin="round" />
<line x1="814.2" y1="416.3" x2="845.0" y2="432.7" stroke="#000" stroke-width="1.2" />
<polyline points="832.0,397.0 832.0,412.0 835.0,413.0 835.0,399.0" fill="none" stroke="#000" stroke-width="1.1" stroke-linejoin="round" />
<circle cx="873.8" cy="247.6" r="2.2" fill="none" stroke="#000" stroke-width="1.3"/>
<circle cx="883.9" cy="253.8" r="2.2" fill="none" stroke="#000" stroke-width="1.3"/>
<circle cx="879.6" cy="266.3" r="2.8" fill="none" stroke="#000" stroke-width="1.3"/>
<circle cx="870.0" cy="284.6" r="2.0" fill="none" stroke="#000" stroke-width="1.3"/>
<circle cx="875.8" cy="318.8" r="1.8" fill="none" stroke="#000" stroke-width="1.3"/>
<circle cx="872.9" cy="394.2" r="2.0" fill="none" stroke="#000" stroke-width="1.3"/>
<circle cx="858.6" cy="529.4" r="1.8" fill="none" stroke="#000" stroke-width="1.3"/>
<circle cx="863.0" cy="592.4" r="2.2" fill="none" stroke="#000" stroke-width="1.3"/>
<circle cx="859.1" cy="619.5" r="2.2" fill="none" stroke="#000" stroke-width="1.3"/>
<circle cx="864.5" cy="520.5" r="2.3" fill="#000" stroke="#000" stroke-width="1.0"/>
<polyline points="778.8,320.0 812.5,347.5" fill="none" stroke="#000" stroke-width="2.4" stroke-linejoin="round" />
<polyline points="1443.4,583.2 1450.4,574.1 1456.5,573.1 1480.7,589.2 1482.7,594.3 1482.7,610.4 1488.2,613.4 1488.7,620.4 1492.2,624.5 1492.5,873.8 1425.5,910.0 1420.5,908.8 1420.5,885.0" fill="none" stroke="#000" stroke-width="2.0" stroke-linejoin="round" />
<path d="M1420.5,885 Q1422,876 1428,872 L1440.5,862.5 Q1445,858 1445,852.5 L1445,777.5 L1413,757 L1410.5,732.5" fill="none" stroke="#000" stroke-width="2.0" stroke-linejoin="round" />
<path d="M1443.4,583.2 C1443.9,589.4 1445.2,609.1 1446.4,620.4 C1447.6,631.6 1450.4,642.3 1450.4,650.7 C1450.4,659.1 1447.7,664.8 1446.4,670.8 C1445.1,676.8 1443.7,676.8 1442.4,686.9 C1441.1,697.0 1439.4,722.9 1438.4,731.3 C1437.4,739.6 1436.7,736.0 1436.3,737.0 " fill="none" stroke="#000" stroke-width="2.0" stroke-linejoin="round" />
<polyline points="1450.4,575.1 1456.5,633.5" fill="none" stroke="#000" stroke-width="1.2" stroke-linejoin="round" />
<path d="M1484.7,612.4 C1481.7,613.7 1471.0,617.4 1466.6,620.4 C1462.2,623.4 1460.8,625.5 1458.5,630.5 C1456.2,635.5 1455.3,633.9 1452.5,650.7 C1449.7,667.5 1443.4,715.5 1441.4,731.3 C1439.4,747.1 1440.6,743.0 1440.4,745.4 " fill="none" stroke="#000" stroke-width="1.2" stroke-linejoin="round" />
<path d="M1485.7,616.4 C1483.2,617.8 1474.5,621.5 1470.6,624.5 C1466.7,627.5 1465.0,629.3 1462.5,634.5 C1460.0,639.7 1458.5,639.6 1455.5,655.7 C1452.5,671.8 1446.4,716.2 1444.4,731.3 C1442.4,746.4 1443.6,743.9 1443.4,746.4 " fill="none" stroke="#000" stroke-width="1.2" stroke-linejoin="round" />
<path d="M1488.7,621.4 C1486.2,622.9 1477.1,627.3 1473.6,630.5 C1470.1,633.7 1469.8,633.9 1467.6,640.6 C1465.4,647.3 1463.4,655.7 1460.5,670.8 C1457.6,685.9 1452.4,718.0 1450.4,731.3 C1448.4,744.6 1448.7,747.2 1448.4,750.4 " fill="none" stroke="#000" stroke-width="1.2" stroke-linejoin="round" />
<line x1="1450.4" y1="749.4" x2="1450.4" y2="852.5" stroke="#000" stroke-width="1.2" />
<path d="M1450.4,852.5 Q1449,866 1436,876 Q1426,884 1426,893 L1426,908" fill="none" stroke="#000" stroke-width="1.1" stroke-linejoin="round" />
<line x1="1440.4" y1="745.4" x2="1448.4" y2="750.4" stroke="#000" stroke-width="1.5" />
<polyline points="1410.1,725.2 1436.3,741.3" fill="none" stroke="#000" stroke-width="1.8" stroke-linejoin="round" />
<polygon points="1418.0,745.5 1428.0,740.0 1437.0,744.5 1432.0,750.5 1421.0,751.0" fill="none" stroke="#000" stroke-width="1.3" stroke-linejoin="round" />
<ellipse cx="1430.3" cy="745.4" rx="3.0" ry="2.0" transform="rotate(-10 1430.3 745.4)" fill="none" stroke="#000" stroke-width="1.3"/>
<circle cx="1460.6" cy="583.5" r="2.6" fill="none" stroke="#000" stroke-width="1.3"/>
<circle cx="1470.8" cy="589.2" r="2.6" fill="none" stroke="#000" stroke-width="1.3"/>
<circle cx="1466.4" cy="602.5" r="2.6" fill="none" stroke="#000" stroke-width="1.3"/>
<line x1="1403.1" y1="723.2" x2="1423.2" y2="733.3" stroke="#000" stroke-width="1.0" />
<line x1="1404.0" y1="725.5" x2="1421.0" y2="734.5" stroke="#000" stroke-width="1.0" />
<polyline points="1465.5,885.0 1465.5,990.0 1485.5,997.5 1493.0,997.5 1493.0,888.8 1485.5,877.5" fill="none" stroke="#000" stroke-width="1.8" stroke-linejoin="round" />
<line x1="1473.0" y1="881.0" x2="1473.0" y2="985.0" stroke="#000" stroke-width="1.1" />
<line x1="1473.0" y1="985.0" x2="1486.0" y2="992.0" stroke="#000" stroke-width="1.1" />
<circle cx="1485.5" cy="891.2" r="2.0" fill="none" stroke="#000" stroke-width="1.3"/>
<circle cx="1481.8" cy="947.5" r="2.0" fill="none" stroke="#000" stroke-width="1.3"/>
<circle cx="1485.5" cy="978.8" r="2.0" fill="none" stroke="#000" stroke-width="1.3"/>
<polyline points="1400.5,830.0 1444.0,800.0" fill="none" stroke="#000" stroke-width="2.4" stroke-linejoin="round" />
<g transform="translate(0,0) translate(0,315.8) scale(1,1.0) translate(0,-315.8)">
<polyline points="1006.2,315.8 1021.1,325.9 1021.5,332.6 1016.7,333.1 1016.7,329.5" fill="none" stroke="#000" stroke-width="2.0" stroke-linejoin="round" />
<path d="M1016.7,329.5 C1013.6,330.9 1003.3,335.3 998.0,338.0 C992.7,340.7 988.5,343.1 985.0,345.6 C981.5,348.2 979.4,349.9 977.3,353.3 C975.2,356.7 973.3,363.7 972.5,365.8 " fill="none" stroke="#000" stroke-width="2.0" stroke-linejoin="round" />
<polyline points="972.5,365.8 973.5,369.6 972.5,377.3 952.3,458.1 941.7,462.9 940.8,471.5" fill="none" stroke="#000" stroke-width="2.0" stroke-linejoin="round" />
<path d="M941.7,472.5 C942.4,473.5 944.8,475.7 945.6,478.3 C946.4,480.9 946.4,486.3 946.5,487.9 " fill="none" stroke="#000" stroke-width="1.6" stroke-linejoin="round" />
<polyline points="946.5,487.9 950.4,483.1 955.2,484.0 960.0,490.8 967.7,491.7 969.6,494.6" fill="none" stroke="#000" stroke-width="2.0" stroke-linejoin="round" />
<path d="M969.6,494.6 C968.6,496.7 965.7,504.5 963.8,507.1 C961.9,509.8 960.6,509.8 958.1,510.5 C955.6,511.2 952.2,512.1 948.5,511.5 C944.8,510.9 939.2,508.9 936.0,507.0 C932.8,505.1 930.6,503.3 929.0,500.0 C927.4,496.7 926.8,491.4 926.3,487.0 C925.8,482.6 926.3,475.8 926.3,473.5 " fill="none" stroke="#000" stroke-width="2.0" stroke-linejoin="round" />
<polyline points="926.3,473.5 926.8,467.7 930.7,467.7 931.2,464.8 954.2,371.5 957.1,366.7 957.1,361.0 953.8,358.1 958.1,347.5 963.8,339.8 972.5,333.1 1006.2,315.8" fill="none" stroke="#000" stroke-width="2.0" stroke-linejoin="round" />
<path d="M1008.0,322.5 C1004.2,324.4 991.7,330.1 985.0,334.0 C978.3,337.9 971.9,340.6 967.7,345.6 C963.5,350.6 961.3,360.8 960.0,363.8 " fill="none" stroke="#000" stroke-width="1.1" stroke-linejoin="round" />
<path d="M1012.0,325.0 C1008.3,327.0 996.7,332.8 990.0,337.0 C983.3,341.2 976.2,345.2 972.0,350.0 C967.8,354.8 966.2,363.3 965.0,366.0 " fill="none" stroke="#000" stroke-width="1.1" stroke-linejoin="round" />
<polyline points="965.8,376.3 942.7,454.2" fill="none" stroke="#000" stroke-width="2.6" stroke-linejoin="round" />
<polyline points="972.5,379.2 952.3,454.2" fill="none" stroke="#000" stroke-width="1.2" stroke-linejoin="round" />
<line x1="965.8" y1="376.3" x2="972.5" y2="379.2" stroke="#000" stroke-width="1.2" />
<path d="M933.0,470.0 C932.8,473.0 930.8,482.2 932.0,488.0 C933.2,493.8 938.7,502.2 940.0,505.0 " fill="none" stroke="#000" stroke-width="1.0" stroke-linejoin="round" />
<path d="M937.0,470.0 C937.0,473.3 935.8,484.0 937.0,490.0 C938.2,496.0 942.8,503.3 944.0,506.0 " fill="none" stroke="#000" stroke-width="1.0" stroke-linejoin="round" />
<path d="M955,496 Q952,503 957,505" fill="none" stroke="#000" stroke-width="1.0" stroke-linejoin="round" />
</g>
<g transform="translate(373,179.3) translate(0,315.8) scale(1,1.042) translate(0,-315.8)">
<polyline points="1006.2,315.8 1021.1,325.9 1021.5,332.6 1016.7,333.1 1016.7,329.5" fill="none" stroke="#000" stroke-width="2.0" stroke-linejoin="round" />
<path d="M1016.7,329.5 C1013.6,330.9 1003.3,335.3 998.0,338.0 C992.7,340.7 988.5,343.1 985.0,345.6 C981.5,348.2 979.4,349.9 977.3,353.3 C975.2,356.7 973.3,363.7 972.5,365.8 " fill="none" stroke="#000" stroke-width="2.0" stroke-linejoin="round" />
<polyline points="972.5,365.8 973.5,369.6 972.5,377.3 952.3,458.1 941.7,462.9 940.8,471.5" fill="none" stroke="#000" stroke-width="2.0" stroke-linejoin="round" />
<path d="M941.7,472.5 C942.4,473.5 944.8,475.7 945.6,478.3 C946.4,480.9 946.4,486.3 946.5,487.9 " fill="none" stroke="#000" stroke-width="1.6" stroke-linejoin="round" />
<polyline points="946.5,487.9 950.4,483.1 955.2,484.0 960.0,490.8 967.7,491.7 969.6,494.6" fill="none" stroke="#000" stroke-width="2.0" stroke-linejoin="round" />
<path d="M969.6,494.6 C968.6,496.7 965.7,504.5 963.8,507.1 C961.9,509.8 960.6,509.8 958.1,510.5 C955.6,511.2 952.2,512.1 948.5,511.5 C944.8,510.9 939.2,508.9 936.0,507.0 C932.8,505.1 930.6,503.3 929.0,500.0 C927.4,496.7 926.8,491.4 926.3,487.0 C925.8,482.6 926.3,475.8 926.3,473.5 " fill="none" stroke="#000" stroke-width="2.0" stroke-linejoin="round" />
<polyline points="926.3,473.5 926.8,467.7 930.7,467.7 931.2,464.8 954.2,371.5 957.1,366.7 957.1,361.0 953.8,358.1 958.1,347.5 963.8,339.8 972.5,333.1 1006.2,315.8" fill="none" stroke="#000" stroke-width="2.0" stroke-linejoin="round" />
<path d="M1008.0,322.5 C1004.2,324.4 991.7,330.1 985.0,334.0 C978.3,337.9 971.9,340.6 967.7,345.6 C963.5,350.6 961.3,360.8 960.0,363.8 " fill="none" stroke="#000" stroke-width="1.1" stroke-linejoin="round" />
<path d="M1012.0,325.0 C1008.3,327.0 996.7,332.8 990.0,337.0 C983.3,341.2 976.2,345.2 972.0,350.0 C967.8,354.8 966.2,363.3 965.0,366.0 " fill="none" stroke="#000" stroke-width="1.1" stroke-linejoin="round" />
<polyline points="965.8,376.3 942.7,454.2" fill="none" stroke="#000" stroke-width="2.6" stroke-linejoin="round" />
<polyline points="972.5,379.2 952.3,454.2" fill="none" stroke="#000" stroke-width="1.2" stroke-linejoin="round" />
<line x1="965.8" y1="376.3" x2="972.5" y2="379.2" stroke="#000" stroke-width="1.2" />
<path d="M933.0,470.0 C932.8,473.0 930.8,482.2 932.0,488.0 C933.2,493.8 938.7,502.2 940.0,505.0 " fill="none" stroke="#000" stroke-width="1.0" stroke-linejoin="round" />
<path d="M937.0,470.0 C937.0,473.3 935.8,484.0 937.0,490.0 C938.2,496.0 942.8,503.3 944.0,506.0 " fill="none" stroke="#000" stroke-width="1.0" stroke-linejoin="round" />
<path d="M955,496 Q952,503 957,505" fill="none" stroke="#000" stroke-width="1.0" stroke-linejoin="round" />
</g>
<polyline points="1011.2,273.8 1006.2,315.8" fill="none" stroke="#000" stroke-width="2.2" stroke-linejoin="round" />
<polyline points="1385.0,453.8 1379.5,496.2" fill="none" stroke="#000" stroke-width="2.2" stroke-linejoin="round" />
<polygon points="1098.0,421.5 1118.2,405.9 1251.1,483.4 1231.6,495.8" fill="#fff" stroke="#000" stroke-width="1.5" stroke-linejoin="round" />
<polygon points="1097.3,421.5 1231.6,495.8 1231.6,582.5 1097.3,508.0" fill="#fff" stroke="#000" stroke-width="1.5" stroke-linejoin="round" />
<polygon points="1231.6,495.8 1251.1,483.4 1253.7,487.0 1253.7,574.6 1230.3,582.5" fill="#fff" stroke="#000" stroke-width="1.5" stroke-linejoin="round" />
<polyline points="1201.0,567.5 1207.0,567.0 1214.0,572.5" fill="none" stroke="#000" stroke-width="1.3" stroke-linejoin="round" />
<polyline points="1097.3,417.0 1094.5,416.5 1093.5,419.0 1093.5,426.0 1097.3,428.5" fill="none" stroke="#000" stroke-width="1.4" stroke-linejoin="round" />
<polyline points="1097.3,473.0 1094.5,473.5 1094.0,480.0 1097.3,482.0" fill="none" stroke="#000" stroke-width="1.3" stroke-linejoin="round" />
<polygon points="1111.7,427.5 1124.7,419.5 1136.7,426.5 1123.7,434.5" fill="#fff" stroke="#000" stroke-width="1.4" stroke-linejoin="round" />
<polyline points="1121.7,424.5 1119.7,429.5 1125.7,431.5 1131.7,427.5" fill="none" stroke="#000" stroke-width="1.1" stroke-linejoin="round" />
<line x1="1123.7" y1="434.5" x2="1123.7" y2="437.5" stroke="#000" stroke-width="1.2" />
<polygon points="1157.3,453.6 1170.3,445.6 1182.3,452.6 1169.3,460.6" fill="#fff" stroke="#000" stroke-width="1.4" stroke-linejoin="round" />
<polyline points="1167.3,450.6 1165.3,455.6 1171.3,457.6 1177.3,453.6" fill="none" stroke="#000" stroke-width="1.1" stroke-linejoin="round" />
<line x1="1169.3" y1="460.6" x2="1169.3" y2="463.6" stroke="#000" stroke-width="1.2" />
<polygon points="1202.9,479.7 1215.9,471.7 1227.9,478.7 1214.9,486.7" fill="#fff" stroke="#000" stroke-width="1.4" stroke-linejoin="round" />
<polyline points="1212.9,476.7 1210.9,481.7 1216.9,483.7 1222.9,479.7" fill="none" stroke="#000" stroke-width="1.1" stroke-linejoin="round" />
<line x1="1214.9" y1="486.7" x2="1214.9" y2="489.7" stroke="#000" stroke-width="1.2" />
<polygon points="1141.7,463.9 1183.4,486.0 1183.4,505.6 1141.7,483.4" fill="none" stroke="#000" stroke-width="1.8" stroke-linejoin="round" />
<polygon points="1144.0,467.5 1181.0,487.5 1181.0,502.0 1144.0,481.5" fill="none" stroke="#000" stroke-width="1.0" stroke-linejoin="round" />
<g transform="translate(1146,479.5) skewY(28)"><text x="0" y="0" font-size="14" font-family="Liberation Mono" font-weight="bold" fill="#000" textLength="35" lengthAdjust="spacingAndGlyphs">8.88 8</text></g>
<ellipse cx="1120.8" cy="489.9" rx="5.0" ry="6.2" transform="rotate(-20 1120.8 489.9)" fill="none" stroke="#000" stroke-width="2.0"/>
<path d="M1124.8,484.9 Q1128.8,489.9 1126.8,497.9" fill="none" stroke="#000" stroke-width="1.1" stroke-linejoin="round" />
<ellipse cx="1143.0" cy="503.0" rx="5.0" ry="6.2" transform="rotate(-20 1143.0 503.0)" fill="none" stroke="#000" stroke-width="2.0"/>
<path d="M1147,498 Q1151,503 1149,511" fill="none" stroke="#000" stroke-width="1.1" stroke-linejoin="round" />
<ellipse cx="1161.9" cy="513.4" rx="5.0" ry="6.2" transform="rotate(-20 1161.9 513.4)" fill="none" stroke="#000" stroke-width="2.0"/>
<path d="M1165.9,508.4 Q1169.9,513.4 1167.9,521.4" fill="none" stroke="#000" stroke-width="1.1" stroke-linejoin="round" />
<ellipse cx="1180.1" cy="525.1" rx="5.0" ry="6.2" transform="rotate(-20 1180.1 525.1)" fill="none" stroke="#000" stroke-width="2.0"/>
<path d="M1184.1,520.1 Q1188.1,525.1 1186.1,533.1" fill="none" stroke="#000" stroke-width="1.1" stroke-linejoin="round" />
<polyline points="1114.8,445.3 1114.8,463.3" fill="none" stroke="#000" stroke-width="1.2" stroke-linejoin="round" />
<polyline points="1126.8,449.3 1126.8,465.3" fill="none" stroke="#000" stroke-width="1.2" stroke-linejoin="round" />
<line x1="1118.8" y1="447.3" x2="1118.8" y2="455.3" stroke="#000" stroke-width="1.0" />
<line x1="1121.8" y1="448.3" x2="1121.8" y2="455.3" stroke="#000" stroke-width="1.0" />
<line x1="1123.8" y1="449.3" x2="1123.8" y2="456.3" stroke="#000" stroke-width="1.0" />
<ellipse cx="1120.8" cy="459.3" rx="5.0" ry="6.0" transform="rotate(-20 1120.8 459.3)" fill="none" stroke="#000" stroke-width="1.8"/>
<polyline points="1199.5,500.1 1199.5,518.1" fill="none" stroke="#000" stroke-width="1.2" stroke-linejoin="round" />
<polyline points="1211.5,504.1 1211.5,520.1" fill="none" stroke="#000" stroke-width="1.2" stroke-linejoin="round" />
<line x1="1203.5" y1="502.1" x2="1203.5" y2="510.1" stroke="#000" stroke-width="1.0" />
<line x1="1206.5" y1="503.1" x2="1206.5" y2="510.1" stroke="#000" stroke-width="1.0" />
<line x1="1208.5" y1="504.1" x2="1208.5" y2="511.1" stroke="#000" stroke-width="1.0" />
<ellipse cx="1205.5" cy="514.1" rx="5.0" ry="6.0" transform="rotate(-20 1205.5 514.1)" fill="none" stroke="#000" stroke-width="1.8"/>
<polyline points="1198.9,531.4 1198.9,549.4" fill="none" stroke="#000" stroke-width="1.2" stroke-linejoin="round" />
<polyline points="1210.9,535.4 1210.9,551.4" fill="none" stroke="#000" stroke-width="1.2" stroke-linejoin="round" />
<line x1="1202.9" y1="533.4" x2="1202.9" y2="541.4" stroke="#000" stroke-width="1.0" />
<line x1="1205.9" y1="534.4" x2="1205.9" y2="541.4" stroke="#000" stroke-width="1.0" />
<line x1="1207.9" y1="535.4" x2="1207.9" y2="542.4" stroke="#000" stroke-width="1.0" />
<ellipse cx="1204.9" cy="545.4" rx="5.0" ry="6.0" transform="rotate(-20 1204.9 545.4)" fill="none" stroke="#000" stroke-width="1.8"/>
<polygon points="1240.7,501.0 1244.7,499.0 1254.7,504.0 1254.7,517.0 1250.7,518.0 1240.7,513.0" fill="#fff" stroke="#000" stroke-width="1.6" stroke-linejoin="round" />
<circle cx="1247.7" cy="509.0" r="2.0" fill="none" stroke="#000" stroke-width="1.1"/>
<polygon points="1240.7,559.7 1244.7,557.7 1254.7,562.7 1254.7,575.7 1250.7,576.7 1240.7,571.7" fill="#fff" stroke="#000" stroke-width="1.6" stroke-linejoin="round" />
<circle cx="1247.7" cy="567.7" r="2.0" fill="none" stroke="#000" stroke-width="1.1"/>
<polyline points="1168.0,364.5 1151.2,425.0" fill="none" stroke="#000" stroke-width="2.2" stroke-linejoin="round" />
<polygon points="1047.8,456.0 1178.8,531.0 1178.8,603.3 1047.8,529.0" fill="#fff" stroke="#000" stroke-width="1.8" stroke-linejoin="round" />
<rect x="1109.5" y="512.6" width="1.1" height="1.1" fill="#333"/><rect x="1109.9" y="505.4" width="1.1" height="1.1" fill="#333"/><rect x="1101.2" y="501.8" width="1.1" height="1.1" fill="#333"/><rect x="1126.3" y="520.6" width="1.1" height="1.1" fill="#333"/><rect x="1125.8" y="519.0" width="1.1" height="1.1" fill="#333"/><rect x="1118.5" y="514.7" width="1.1" height="1.1" fill="#333"/><rect x="1096.8" y="506.5" width="1.1" height="1.1" fill="#333"/><rect x="1119.7" y="518.0" width="1.1" height="1.1" fill="#333"/><rect x="1099.4" y="493.5" width="1.1" height="1.1" fill="#333"/><rect x="1101.9" y="500.1" width="1.1" height="1.1" fill="#333"/><rect x="1117.3" y="511.9" width="1.1" height="1.1" fill="#333"/><rect x="1119.8" y="508.3" width="1.1" height="1.1" fill="#333"/><rect x="1117.2" y="515.8" width="1.1" height="1.1" fill="#333"/><rect x="1106.5" y="517.4" width="1.1" height="1.1" fill="#333"/><rect x="1119.4" y="522.5" width="1.1" height="1.1" fill="#333"/><rect x="1105.2" y="499.6" width="1.1" height="1.1" fill="#333"/><rect x="1108.2" y="506.4" width="1.1" height="1.1" fill="#333"/><rect x="1121.4" y="516.8" width="1.1" height="1.1" fill="#333"/><rect x="1107.5" y="499.3" width="1.1" height="1.1" fill="#333"/><rect x="1107.0" y="515.8" width="1.1" height="1.1" fill="#333"/><rect x="1102.5" y="506.3" width="1.1" height="1.1" fill="#333"/><rect x="1117.6" y="502.1" width="1.1" height="1.1" fill="#333"/><rect x="1113.6" y="520.2" width="1.1" height="1.1" fill="#333"/><rect x="1094.5" y="497.9" width="1.1" height="1.1" fill="#333"/><rect x="1111.6" y="502.3" width="1.1" height="1.1" fill="#333"/><rect x="1119.8" y="513.2" width="1.1" height="1.1" fill="#333"/><rect x="1097.9" y="507.2" width="1.1" height="1.1" fill="#333"/><rect x="1121.1" y="521.9" width="1.1" height="1.1" fill="#333"/><rect x="1128.9" y="521.3" width="1.1" height="1.1" fill="#333"/><rect x="1114.4" y="501.0" width="1.1" height="1.1" fill="#333"/><rect x="1120.9" y="509.2" width="1.1" height="1.1" fill="#333"/><rect x="1107.8" y="497.7" width="1.1" height="1.1" fill="#333"/><rect x="1101.2" y="499.3" width="1.1" height="1.1" fill="#333"/><rect x="1123.4" y="505.1" width="1.1" height="1.1" fill="#333"/><rect x="1096.9" y="502.9" width="1.1" height="1.1" fill="#333"/><rect x="1128.5" y="522.6" width="1.1" height="1.1" fill="#333"/><rect x="1101.0" y="493.1" width="1.1" height="1.1" fill="#333"/><rect x="1117.7" y="506.3" width="1.1" height="1.1" fill="#333"/><rect x="1100.7" y="510.2" width="1.1" height="1.1" fill="#333"/><rect x="1126.5" y="518.6" width="1.1" height="1.1" fill="#333"/><rect x="1116.4" y="515.7" width="1.1" height="1.1" fill="#333"/><rect x="1129.3" y="523.1" width="1.1" height="1.1" fill="#333"/><rect x="1119.8" y="518.5" width="1.1" height="1.1" fill="#333"/><rect x="1098.5" y="509.7" width="1.1" height="1.1" fill="#333"/><rect x="1124.7" y="520.7" width="1.1" height="1.1" fill="#333"/><rect x="1095.1" y="496.4" width="1.1" height="1.1" fill="#333"/><rect x="1120.8" y="503.4" width="1.1" height="1.1" fill="#333"/><rect x="1110.7" y="517.0" width="1.1" height="1.1" fill="#333"/><rect x="1101.1" y="512.9" width="1.1" height="1.1" fill="#333"/><rect x="1120.5" y="512.8" width="1.1" height="1.1" fill="#333"/><rect x="1117.3" y="518.0" width="1.1" height="1.1" fill="#333"/><rect x="1114.5" y="519.8" width="1.1" height="1.1" fill="#333"/><rect x="1104.3" y="501.7" width="1.1" height="1.1" fill="#333"/><rect x="1125.9" y="517.3" width="1.1" height="1.1" fill="#333"/><rect x="1102.7" y="511.5" width="1.1" height="1.1" fill="#333"/><rect x="1128.9" y="515.6" width="1.1" height="1.1" fill="#333"/><rect x="1097.4" y="500.4" width="1.1" height="1.1" fill="#333"/><rect x="1110.9" y="506.2" width="1.1" height="1.1" fill="#333"/><rect x="1127.3" y="511.1" width="1.1" height="1.1" fill="#333"/><rect x="1125.6" y="508.7" width="1.1" height="1.1" fill="#333"/><rect x="1103.1" y="509.7" width="1.1" height="1.1" fill="#333"/><rect x="1125.7" y="523.2" width="1.1" height="1.1" fill="#333"/><rect x="1117.8" y="513.9" width="1.1" height="1.1" fill="#333"/><rect x="1115.1" y="516.2" width="1.1" height="1.1" fill="#333"/><rect x="1110.5" y="511.2" width="1.1" height="1.1" fill="#333"/><rect x="1120.8" y="514.3" width="1.1" height="1.1" fill="#333"/><rect x="1122.7" y="520.0" width="1.1" height="1.1" fill="#333"/><rect x="1131.5" y="522.1" width="1.1" height="1.1" fill="#333"/><rect x="1107.2" y="503.5" width="1.1" height="1.1" fill="#333"/><rect x="1112.8" y="517.6" width="1.1" height="1.1" fill="#333"/><rect x="1108.4" y="510.9" width="1.1" height="1.1" fill="#333"/><rect x="1124.6" y="505.8" width="1.1" height="1.1" fill="#333"/><rect x="1099.4" y="504.4" width="1.1" height="1.1" fill="#333"/><rect x="1118.5" y="515.2" width="1.1" height="1.1" fill="#333"/><rect x="1107.3" y="512.5" width="1.1" height="1.1" fill="#333"/><rect x="1116.8" y="507.5" width="1.1" height="1.1" fill="#333"/><rect x="1132.3" y="522.4" width="1.1" height="1.1" fill="#333"/><rect x="1105.5" y="505.0" width="1.1" height="1.1" fill="#333"/><rect x="1109.8" y="507.7" width="1.1" height="1.1" fill="#333"/><rect x="1093.5" y="497.0" width="1.1" height="1.1" fill="#333"/><rect x="1123.9" y="507.8" width="1.1" height="1.1" fill="#333"/><rect x="1112.2" y="517.4" width="1.1" height="1.1" fill="#333"/><rect x="1121.8" y="524.7" width="1.1" height="1.1" fill="#333"/><rect x="1095.7" y="498.2" width="1.1" height="1.1" fill="#333"/><rect x="1108.5" y="512.9" width="1.1" height="1.1" fill="#333"/><rect x="1120.5" y="502.2" width="1.1" height="1.1" fill="#333"/><rect x="1123.8" y="506.6" width="1.1" height="1.1" fill="#333"/><rect x="1120.2" y="503.8" width="1.1" height="1.1" fill="#333"/><rect x="1115.1" y="520.4" width="1.1" height="1.1" fill="#333"/><rect x="1110.9" y="510.6" width="1.1" height="1.1" fill="#333"/><rect x="1123.4" y="516.9" width="1.1" height="1.1" fill="#333"/><rect x="1112.0" y="520.3" width="1.1" height="1.1" fill="#333"/><rect x="1125.9" y="514.7" width="1.1" height="1.1" fill="#333"/><rect x="1131.3" y="515.1" width="1.1" height="1.1" fill="#333"/><rect x="1124.6" y="514.2" width="1.1" height="1.1" fill="#333"/><rect x="1114.8" y="517.1" width="1.1" height="1.1" fill="#333"/><rect x="1116.0" y="517.2" width="1.1" height="1.1" fill="#333"/><rect x="1099.5" y="493.9" width="1.1" height="1.1" fill="#333"/><rect x="1120.5" y="506.5" width="1.1" height="1.1" fill="#333"/><rect x="1102.8" y="494.8" width="1.1" height="1.1" fill="#333"/><rect x="1127.0" y="523.1" width="1.1" height="1.1" fill="#333"/><rect x="1127.9" y="512.0" width="1.1" height="1.1" fill="#333"/><rect x="1113.0" y="501.0" width="1.1" height="1.1" fill="#333"/><rect x="1120.7" y="524.6" width="1.1" height="1.1" fill="#333"/><rect x="1104.1" y="515.2" width="1.1" height="1.1" fill="#333"/><rect x="1125.4" y="515.4" width="1.1" height="1.1" fill="#333"/><rect x="1097.2" y="508.6" width="1.1" height="1.1" fill="#333"/><rect x="1111.7" y="504.0" width="1.1" height="1.1" fill="#333"/><rect x="1118.4" y="516.6" width="1.1" height="1.1" fill="#333"/><rect x="1127.8" y="511.6" width="1.1" height="1.1" fill="#333"/><rect x="1072.2" y="496.5" width="1.1" height="1.1" fill="#333"/><rect x="1073.2" y="492.2" width="1.1" height="1.1" fill="#333"/><rect x="1068.3" y="493.6" width="1.1" height="1.1" fill="#333"/><rect x="1070.3" y="491.7" width="1.1" height="1.1" fill="#333"/><rect x="1073.2" y="491.9" width="1.1" height="1.1" fill="#333"/><rect x="1066.2" y="487.9" width="1.1" height="1.1" fill="#333"/><rect x="1066.6" y="491.4" width="1.1" height="1.1" fill="#333"/><rect x="1070.8" y="489.0" width="1.1" height="1.1" fill="#333"/><rect x="1070.0" y="494.2" width="1.1" height="1.1" fill="#333"/><rect x="1070.2" y="495.7" width="1.1" height="1.1" fill="#333"/><rect x="1069.8" y="494.8" width="1.1" height="1.1" fill="#333"/><rect x="1072.6" y="496.6" width="1.1" height="1.1" fill="#333"/><rect x="1068.4" y="493.3" width="1.1" height="1.1" fill="#333"/><rect x="1066.7" y="486.3" width="1.1" height="1.1" fill="#333"/><rect x="1108.8" y="542.0" width="1.1" height="1.1" fill="#333"/><rect x="1109.4" y="540.0" width="1.1" height="1.1" fill="#333"/><rect x="1112.3" y="541.5" width="1.1" height="1.1" fill="#333"/><rect x="1111.0" y="541.7" width="1.1" height="1.1" fill="#333"/><rect x="1117.5" y="544.6" width="1.1" height="1.1" fill="#333"/><rect x="1114.6" y="545.9" width="1.1" height="1.1" fill="#333"/><rect x="1112.4" y="538.0" width="1.1" height="1.1" fill="#333"/><rect x="1111.3" y="544.3" width="1.1" height="1.1" fill="#333"/><rect x="1108.8" y="538.2" width="1.1" height="1.1" fill="#333"/><rect x="1115.9" y="545.9" width="1.1" height="1.1" fill="#333"/><rect x="1113.0" y="544.6" width="1.1" height="1.1" fill="#333"/><rect x="1113.5" y="538.7" width="1.1" height="1.1" fill="#333"/><rect x="1126.0" y="551.1" width="1.1" height="1.1" fill="#333"/><rect x="1132.8" y="554.8" width="1.1" height="1.1" fill="#333"/><rect x="1127.3" y="551.2" width="1.1" height="1.1" fill="#333"/><rect x="1125.9" y="552.4" width="1.1" height="1.1" fill="#333"/><rect x="1126.5" y="554.2" width="1.1" height="1.1" fill="#333"/><rect x="1125.2" y="553.0" width="1.1" height="1.1" fill="#333"/><rect x="1128.5" y="549.7" width="1.1" height="1.1" fill="#333"/><rect x="1132.4" y="555.4" width="1.1" height="1.1" fill="#333"/><rect x="1125.5" y="550.7" width="1.1" height="1.1" fill="#333"/><rect x="1131.0" y="554.0" width="1.1" height="1.1" fill="#333"/><rect x="1132.4" y="558.6" width="1.1" height="1.1" fill="#333"/><rect x="1132.2" y="557.3" width="1.1" height="1.1" fill="#333"/><rect x="1159.7" y="571.8" width="1.1" height="1.1" fill="#333"/><rect x="1157.0" y="563.9" width="1.1" height="1.1" fill="#333"/><rect x="1158.4" y="572.8" width="1.1" height="1.1" fill="#333"/><rect x="1155.0" y="565.8" width="1.1" height="1.1" fill="#333"/><rect x="1159.6" y="566.7" width="1.1" height="1.1" fill="#333"/><rect x="1156.9" y="573.3" width="1.1" height="1.1" fill="#333"/><rect x="1153.2" y="568.5" width="1.1" height="1.1" fill="#333"/><rect x="1160.6" y="570.2" width="1.1" height="1.1" fill="#333"/><rect x="1157.7" y="571.7" width="1.1" height="1.1" fill="#333"/><rect x="1153.1" y="566.1" width="1.1" height="1.1" fill="#333"/><rect x="1156.9" y="571.2" width="1.1" height="1.1" fill="#333"/><rect x="1155.9" y="567.2" width="1.1" height="1.1" fill="#333"/><rect x="1155.5" y="538.7" width="1.1" height="1.1" fill="#333"/><rect x="1160.3" y="542.5" width="1.1" height="1.1" fill="#333"/><rect x="1156.0" y="537.9" width="1.1" height="1.1" fill="#333"/><rect x="1161.7" y="544.6" width="1.1" height="1.1" fill="#333"/><rect x="1158.9" y="537.7" width="1.1" height="1.1" fill="#333"/><rect x="1159.6" y="543.2" width="1.1" height="1.1" fill="#333"/><rect x="1161.4" y="543.8" width="1.1" height="1.1" fill="#333"/><rect x="1157.8" y="542.3" width="1.1" height="1.1" fill="#333"/><rect x="1154.6" y="540.9" width="1.1" height="1.1" fill="#333"/><rect x="1158.9" y="539.6" width="1.1" height="1.1" fill="#333"/><rect x="1075.1" y="527.9" width="1.1" height="1.1" fill="#333"/><rect x="1072.5" y="523.1" width="1.1" height="1.1" fill="#333"/><rect x="1074.4" y="525.6" width="1.1" height="1.1" fill="#333"/><rect x="1073.5" y="522.9" width="1.1" height="1.1" fill="#333"/><rect x="1075.7" y="527.2" width="1.1" height="1.1" fill="#333"/><rect x="1072.8" y="522.3" width="1.1" height="1.1" fill="#333"/><rect x="1103.2" y="531.6" width="1.1" height="1.1" fill="#333"/><rect x="1103.4" y="531.4" width="1.1" height="1.1" fill="#333"/><rect x="1097.8" y="527.4" width="1.1" height="1.1" fill="#333"/><rect x="1096.4" y="524.7" width="1.1" height="1.1" fill="#333"/><rect x="1099.8" y="529.3" width="1.1" height="1.1" fill="#333"/><rect x="1098.1" y="526.6" width="1.1" height="1.1" fill="#333"/><rect x="1101.2" y="529.7" width="1.1" height="1.1" fill="#333"/><rect x="1101.7" y="529.5" width="1.1" height="1.1" fill="#333"/><rect x="1139.2" y="529.6" width="1.1" height="1.1" fill="#333"/><rect x="1140.1" y="525.9" width="1.1" height="1.1" fill="#333"/><rect x="1138.3" y="527.1" width="1.1" height="1.1" fill="#333"/><rect x="1139.7" y="528.3" width="1.1" height="1.1" fill="#333"/><rect x="1140.0" y="528.5" width="1.1" height="1.1" fill="#333"/><rect x="1139.7" y="524.9" width="1.1" height="1.1" fill="#333"/><rect x="1141.0" y="531.1" width="1.1" height="1.1" fill="#333"/><rect x="1141.2" y="528.1" width="1.1" height="1.1" fill="#333"/>
<polyline points="1178.8,602.5 1197.7,627.0" fill="none" stroke="#000" stroke-width="2.2" stroke-linejoin="round" />
<circle cx="1176.4" cy="349.6" r="27.3" fill="none" stroke="#e31b23" stroke-width="9.6"/>
<circle cx="1218.5" cy="656.2" r="29.6" fill="none" stroke="#e31b23" stroke-width="10.0"/>
<text x="1162.9" y="355.7" font-size="26.2" font-weight="normal" fill="#000">20</text>
<text x="1196.2" y="661.4" font-size="26.2" font-weight="normal" fill="#000">20A</text>
<line x1="752.5" y1="727.5" x2="1090.0" y2="535.0" stroke="#000" stroke-width="1.3" stroke-dasharray="8,4"/>
<line x1="963.8" y1="963.8" x2="1440.5" y2="688.8" stroke="#000" stroke-width="1.3" stroke-dasharray="8,4"/>
<line x1="782.5" y1="1652.5" x2="1214.7" y2="1404.2" stroke="#000" stroke-width="1.3" stroke-dasharray="8,4"/>
<polyline points="959.4,993.0 1006.9,1025.6" fill="none" stroke="#000" stroke-width="2.4" stroke-linejoin="round" />
<polyline points="1166.4,1191.8 1152.5,1222.9" fill="none" stroke="#000" stroke-width="2.4" stroke-linejoin="round" />
<polyline points="445.9,1407.0 469.6,1474.5" fill="none" stroke="#000" stroke-width="2.2" stroke-linejoin="round" />
<polyline points="935.6,1080.0 974.4,1101.9 975.0,1105.0 977.5,1121.5 1179.8,1238.4 1178.7,1220.6 1221.0,1244.1 1221.7,1256.9 1223.5,1258.3 1223.5,1263.3 1425.0,1380.6 1425.6,1362.5 1465.6,1385.6 1465.6,1396.2 1467.5,1402.5 1476.2,1410.0 1483.8,1415.0 1493.8,1426.2 1493.8,1682.0 1495.6,1688.8 1490.0,1692.5 918.8,1363.8 911.9,1356.2 911.9,1347.5 910.0,1346.9 910.0,1089.4 914.0,1087.6 918.8,1088.8 928.0,1093.8 935.0,1097.0 935.6,1080.0" fill="none" stroke="#000" stroke-width="2.0" stroke-linejoin="round" />
<polyline points="970.0,1125.6 1169.9,1241.2 1175.5,1240.9 1182.6,1234.8 1220.3,1256.9" fill="none" stroke="#000" stroke-width="1.1" stroke-linejoin="round" />
<polyline points="1214.0,1267.0 1425.0,1389.5" fill="none" stroke="#000" stroke-width="1.1" stroke-linejoin="round" />
<polyline points="1427.5,1377.5 1465.0,1397.5" fill="none" stroke="#000" stroke-width="1.1" stroke-linejoin="round" />
<line x1="928.0" y1="1093.8" x2="928.0" y2="1350.0" stroke="#000" stroke-width="1.6" />
<polyline points="913.8,1348.0 925.0,1352.5 1477.5,1670.6 1492.5,1681.2" fill="none" stroke="#000" stroke-width="1.1" stroke-linejoin="round" />
<line x1="1476.2" y1="1411.0" x2="1476.2" y2="1670.0" stroke="#000" stroke-width="1.1" />
<path d="M968.4,1136.3 Q963.8,1135.1 964.4,1132.5 L1028.4,1169.0 Q1030.2,1171.2 1027.6,1172.4" fill="none" stroke="#000" stroke-width="1.1"/>
<line x1="968.4" y1="1136.3" x2="1027.6" y2="1172.4" stroke="#000" stroke-width="1.9"/>
<path d="M968.4,1149.1 Q963.8,1147.8 964.4,1145.2 L1028.4,1181.8 Q1030.2,1184.0 1027.6,1185.2" fill="none" stroke="#000" stroke-width="1.1"/>
<line x1="968.4" y1="1149.1" x2="1027.6" y2="1185.2" stroke="#000" stroke-width="1.9"/>
<path d="M968.4,1161.8 Q963.8,1160.6 964.4,1158.0 L1028.4,1194.5 Q1030.2,1196.7 1027.6,1197.9" fill="none" stroke="#000" stroke-width="1.1"/>
<line x1="968.4" y1="1161.8" x2="1027.6" y2="1197.9" stroke="#000" stroke-width="1.9"/>
<path d="M968.4,1174.6 Q963.8,1173.3 964.4,1170.8 L1028.4,1207.2 Q1030.2,1209.5 1027.6,1210.7" fill="none" stroke="#000" stroke-width="1.1"/>
<line x1="968.4" y1="1174.6" x2="1027.6" y2="1210.7" stroke="#000" stroke-width="1.9"/>
<path d="M968.4,1187.3 Q963.8,1186.1 964.4,1183.5 L1028.4,1220.0 Q1030.2,1222.2 1027.6,1223.4" fill="none" stroke="#000" stroke-width="1.1"/>
<line x1="968.4" y1="1187.3" x2="1027.6" y2="1223.4" stroke="#000" stroke-width="1.9"/>
<path d="M1051.0,1184.1 Q1046.4,1182.8 1047.0,1180.2 L1111.0,1216.8 Q1112.8,1219.0 1110.2,1220.2" fill="none" stroke="#000" stroke-width="1.1"/>
<line x1="1051.0" y1="1184.1" x2="1110.2" y2="1220.2" stroke="#000" stroke-width="1.9"/>
<path d="M1051.0,1196.8 Q1046.4,1195.6 1047.0,1193.0 L1111.0,1229.5 Q1112.8,1231.7 1110.2,1232.9" fill="none" stroke="#000" stroke-width="1.1"/>
<line x1="1051.0" y1="1196.8" x2="1110.2" y2="1232.9" stroke="#000" stroke-width="1.9"/>
<path d="M1051.0,1209.6 Q1046.4,1208.3 1047.0,1205.8 L1111.0,1242.2 Q1112.8,1244.5 1110.2,1245.7" fill="none" stroke="#000" stroke-width="1.1"/>
<line x1="1051.0" y1="1209.6" x2="1110.2" y2="1245.7" stroke="#000" stroke-width="1.9"/>
<path d="M1051.0,1222.3 Q1046.4,1221.1 1047.0,1218.5 L1111.0,1255.0 Q1112.8,1257.2 1110.2,1258.4" fill="none" stroke="#000" stroke-width="1.1"/>
<line x1="1051.0" y1="1222.3" x2="1110.2" y2="1258.4" stroke="#000" stroke-width="1.9"/>
<path d="M1051.0,1235.1 Q1046.4,1233.8 1047.0,1231.2 L1111.0,1267.8 Q1112.8,1270.0 1110.2,1271.2" fill="none" stroke="#000" stroke-width="1.1"/>
<line x1="1051.0" y1="1235.1" x2="1110.2" y2="1271.2" stroke="#000" stroke-width="1.9"/>
<path d="M1133.6,1231.8 Q1129.0,1230.6 1129.6,1228.0 L1193.6,1264.5 Q1195.4,1266.7 1192.8,1267.9" fill="none" stroke="#000" stroke-width="1.1"/>
<line x1="1133.6" y1="1231.8" x2="1192.8" y2="1267.9" stroke="#000" stroke-width="1.9"/>
<path d="M1133.6,1244.6 Q1129.0,1243.3 1129.6,1240.8 L1193.6,1277.2 Q1195.4,1279.5 1192.8,1280.7" fill="none" stroke="#000" stroke-width="1.1"/>
<line x1="1133.6" y1="1244.6" x2="1192.8" y2="1280.7" stroke="#000" stroke-width="1.9"/>
<path d="M1133.6,1257.3 Q1129.0,1256.1 1129.6,1253.5 L1193.6,1290.0 Q1195.4,1292.2 1192.8,1293.4" fill="none" stroke="#000" stroke-width="1.1"/>
<line x1="1133.6" y1="1257.3" x2="1192.8" y2="1293.4" stroke="#000" stroke-width="1.9"/>
<path d="M1133.6,1270.1 Q1129.0,1268.8 1129.6,1266.2 L1193.6,1302.8 Q1195.4,1305.0 1192.8,1306.2" fill="none" stroke="#000" stroke-width="1.1"/>
<line x1="1133.6" y1="1270.1" x2="1192.8" y2="1306.2" stroke="#000" stroke-width="1.9"/>
<path d="M1133.6,1282.8 Q1129.0,1281.6 1129.6,1279.0 L1193.6,1315.5 Q1195.4,1317.7 1192.8,1318.9" fill="none" stroke="#000" stroke-width="1.1"/>
<line x1="1133.6" y1="1282.8" x2="1192.8" y2="1318.9" stroke="#000" stroke-width="1.9"/>
<path d="M1216.2,1279.6 Q1211.6,1278.3 1212.2,1275.8 L1276.2,1312.2 Q1278.0,1314.5 1275.4,1315.7" fill="none" stroke="#000" stroke-width="1.1"/>
<line x1="1216.2" y1="1279.6" x2="1275.4" y2="1315.7" stroke="#000" stroke-width="1.9"/>
<path d="M1216.2,1292.3 Q1211.6,1291.1 1212.2,1288.5 L1276.2,1325.0 Q1278.0,1327.2 1275.4,1328.4" fill="none" stroke="#000" stroke-width="1.1"/>
<line x1="1216.2" y1="1292.3" x2="1275.4" y2="1328.4" stroke="#000" stroke-width="1.9"/>
<path d="M1216.2,1305.1 Q1211.6,1303.8 1212.2,1301.2 L1276.2,1337.8 Q1278.0,1340.0 1275.4,1341.2" fill="none" stroke="#000" stroke-width="1.1"/>
<line x1="1216.2" y1="1305.1" x2="1275.4" y2="1341.2" stroke="#000" stroke-width="1.9"/>
<path d="M1216.2,1317.8 Q1211.6,1316.6 1212.2,1314.0 L1276.2,1350.5 Q1278.0,1352.7 1275.4,1353.9" fill="none" stroke="#000" stroke-width="1.1"/>
<line x1="1216.2" y1="1317.8" x2="1275.4" y2="1353.9" stroke="#000" stroke-width="1.9"/>
<path d="M1216.2,1330.6 Q1211.6,1329.3 1212.2,1326.8 L1276.2,1363.2 Q1278.0,1365.5 1275.4,1366.7" fill="none" stroke="#000" stroke-width="1.1"/>
<line x1="1216.2" y1="1330.6" x2="1275.4" y2="1366.7" stroke="#000" stroke-width="1.9"/>
<path d="M1298.8,1327.3 Q1294.2,1326.1 1294.8,1323.5 L1358.8,1360.0 Q1360.6,1362.2 1358.0,1363.4" fill="none" stroke="#000" stroke-width="1.1"/>
<line x1="1298.8" y1="1327.3" x2="1358.0" y2="1363.4" stroke="#000" stroke-width="1.9"/>
<path d="M1298.8,1340.1 Q1294.2,1338.8 1294.8,1336.2 L1358.8,1372.8 Q1360.6,1375.0 1358.0,1376.2" fill="none" stroke="#000" stroke-width="1.1"/>
<line x1="1298.8" y1="1340.1" x2="1358.0" y2="1376.2" stroke="#000" stroke-width="1.9"/>
<path d="M1298.8,1352.8 Q1294.2,1351.6 1294.8,1349.0 L1358.8,1385.5 Q1360.6,1387.7 1358.0,1388.9" fill="none" stroke="#000" stroke-width="1.1"/>
<line x1="1298.8" y1="1352.8" x2="1358.0" y2="1388.9" stroke="#000" stroke-width="1.9"/>
<path d="M1298.8,1365.6 Q1294.2,1364.3 1294.8,1361.8 L1358.8,1398.2 Q1360.6,1400.5 1358.0,1401.7" fill="none" stroke="#000" stroke-width="1.1"/>
<line x1="1298.8" y1="1365.6" x2="1358.0" y2="1401.7" stroke="#000" stroke-width="1.9"/>
<path d="M1298.8,1378.3 Q1294.2,1377.1 1294.8,1374.5 L1358.8,1411.0 Q1360.6,1413.2 1358.0,1414.4" fill="none" stroke="#000" stroke-width="1.1"/>
<line x1="1298.8" y1="1378.3" x2="1358.0" y2="1414.4" stroke="#000" stroke-width="1.9"/>
<path d="M1381.4,1375.1 Q1376.8,1373.8 1377.4,1371.2 L1441.4,1407.8 Q1443.2,1410.0 1440.6,1411.2" fill="none" stroke="#000" stroke-width="1.1"/>
<line x1="1381.4" y1="1375.1" x2="1440.6" y2="1411.2" stroke="#000" stroke-width="1.9"/>
<path d="M1381.4,1387.8 Q1376.8,1386.6 1377.4,1384.0 L1441.4,1420.5 Q1443.2,1422.7 1440.6,1423.9" fill="none" stroke="#000" stroke-width="1.1"/>
<line x1="1381.4" y1="1387.8" x2="1440.6" y2="1423.9" stroke="#000" stroke-width="1.9"/>
<path d="M1381.4,1400.6 Q1376.8,1399.3 1377.4,1396.8 L1441.4,1433.2 Q1443.2,1435.5 1440.6,1436.7" fill="none" stroke="#000" stroke-width="1.1"/>
<line x1="1381.4" y1="1400.6" x2="1440.6" y2="1436.7" stroke="#000" stroke-width="1.9"/>
<path d="M1381.4,1413.3 Q1376.8,1412.1 1377.4,1409.5 L1441.4,1446.0 Q1443.2,1448.2 1440.6,1449.4" fill="none" stroke="#000" stroke-width="1.1"/>
<line x1="1381.4" y1="1413.3" x2="1440.6" y2="1449.4" stroke="#000" stroke-width="1.9"/>
<path d="M1381.4,1426.1 Q1376.8,1424.8 1377.4,1422.2 L1441.4,1458.8 Q1443.2,1461.0 1440.6,1462.2" fill="none" stroke="#000" stroke-width="1.1"/>
<line x1="1381.4" y1="1426.1" x2="1440.6" y2="1462.2" stroke="#000" stroke-width="1.9"/>
<path d="M968.4,1303.8 Q963.8,1302.6 964.4,1300.0 L1028.4,1336.5 Q1030.2,1338.7 1027.6,1339.9" fill="none" stroke="#000" stroke-width="1.1"/>
<line x1="968.4" y1="1303.8" x2="1027.6" y2="1339.9" stroke="#000" stroke-width="1.9"/>
<path d="M968.4,1316.6 Q963.8,1315.3 964.4,1312.8 L1028.4,1349.2 Q1030.2,1351.5 1027.6,1352.7" fill="none" stroke="#000" stroke-width="1.1"/>
<line x1="968.4" y1="1316.6" x2="1027.6" y2="1352.7" stroke="#000" stroke-width="1.9"/>
<path d="M968.4,1329.3 Q963.8,1328.1 964.4,1325.5 L1028.4,1362.0 Q1030.2,1364.2 1027.6,1365.4" fill="none" stroke="#000" stroke-width="1.1"/>
<line x1="968.4" y1="1329.3" x2="1027.6" y2="1365.4" stroke="#000" stroke-width="1.9"/>
<path d="M968.4,1342.1 Q963.8,1340.8 964.4,1338.2 L1028.4,1374.8 Q1030.2,1377.0 1027.6,1378.2" fill="none" stroke="#000" stroke-width="1.1"/>
<line x1="968.4" y1="1342.1" x2="1027.6" y2="1378.2" stroke="#000" stroke-width="1.9"/>
<path d="M968.4,1354.8 Q963.8,1353.6 964.4,1351.0 L1028.4,1387.5 Q1030.2,1389.7 1027.6,1390.9" fill="none" stroke="#000" stroke-width="1.1"/>
<line x1="968.4" y1="1354.8" x2="1027.6" y2="1390.9" stroke="#000" stroke-width="1.9"/>
<path d="M1051.0,1351.6 Q1046.4,1350.3 1047.0,1347.8 L1111.0,1384.2 Q1112.8,1386.5 1110.2,1387.7" fill="none" stroke="#000" stroke-width="1.1"/>
<line x1="1051.0" y1="1351.6" x2="1110.2" y2="1387.7" stroke="#000" stroke-width="1.9"/>
<path d="M1051.0,1364.3 Q1046.4,1363.1 1047.0,1360.5 L1111.0,1397.0 Q1112.8,1399.2 1110.2,1400.4" fill="none" stroke="#000" stroke-width="1.1"/>
<line x1="1051.0" y1="1364.3" x2="1110.2" y2="1400.4" stroke="#000" stroke-width="1.9"/>
<path d="M1051.0,1377.1 Q1046.4,1375.8 1047.0,1373.2 L1111.0,1409.8 Q1112.8,1412.0 1110.2,1413.2" fill="none" stroke="#000" stroke-width="1.1"/>
<line x1="1051.0" y1="1377.1" x2="1110.2" y2="1413.2" stroke="#000" stroke-width="1.9"/>
<path d="M1051.0,1389.8 Q1046.4,1388.6 1047.0,1386.0 L1111.0,1422.5 Q1112.8,1424.7 1110.2,1425.9" fill="none" stroke="#000" stroke-width="1.1"/>
<line x1="1051.0" y1="1389.8" x2="1110.2" y2="1425.9" stroke="#000" stroke-width="1.9"/>
<path d="M1051.0,1402.6 Q1046.4,1401.3 1047.0,1398.8 L1111.0,1435.2 Q1112.8,1437.5 1110.2,1438.7" fill="none" stroke="#000" stroke-width="1.1"/>
<line x1="1051.0" y1="1402.6" x2="1110.2" y2="1438.7" stroke="#000" stroke-width="1.9"/>
<path d="M1133.6,1399.3 Q1129.0,1398.1 1129.6,1395.5 L1193.6,1432.0 Q1195.4,1434.2 1192.8,1435.4" fill="none" stroke="#000" stroke-width="1.1"/>
<line x1="1133.6" y1="1399.3" x2="1192.8" y2="1435.4" stroke="#000" stroke-width="1.9"/>
<path d="M1133.6,1412.1 Q1129.0,1410.8 1129.6,1408.2 L1193.6,1444.8 Q1195.4,1447.0 1192.8,1448.2" fill="none" stroke="#000" stroke-width="1.1"/>
<line x1="1133.6" y1="1412.1" x2="1192.8" y2="1448.2" stroke="#000" stroke-width="1.9"/>
<path d="M1133.6,1424.8 Q1129.0,1423.6 1129.6,1421.0 L1193.6,1457.5 Q1195.4,1459.7 1192.8,1460.9" fill="none" stroke="#000" stroke-width="1.1"/>
<line x1="1133.6" y1="1424.8" x2="1192.8" y2="1460.9" stroke="#000" stroke-width="1.9"/>
<path d="M1133.6,1437.6 Q1129.0,1436.3 1129.6,1433.8 L1193.6,1470.2 Q1195.4,1472.5 1192.8,1473.7" fill="none" stroke="#000" stroke-width="1.1"/>
<line x1="1133.6" y1="1437.6" x2="1192.8" y2="1473.7" stroke="#000" stroke-width="1.9"/>
<path d="M1133.6,1450.3 Q1129.0,1449.1 1129.6,1446.5 L1193.6,1483.0 Q1195.4,1485.2 1192.8,1486.4" fill="none" stroke="#000" stroke-width="1.1"/>
<line x1="1133.6" y1="1450.3" x2="1192.8" y2="1486.4" stroke="#000" stroke-width="1.9"/>
<path d="M1216.2,1447.1 Q1211.6,1445.8 1212.2,1443.2 L1276.2,1479.8 Q1278.0,1482.0 1275.4,1483.2" fill="none" stroke="#000" stroke-width="1.1"/>
<line x1="1216.2" y1="1447.1" x2="1275.4" y2="1483.2" stroke="#000" stroke-width="1.9"/>
<path d="M1216.2,1459.8 Q1211.6,1458.6 1212.2,1456.0 L1276.2,1492.5 Q1278.0,1494.7 1275.4,1495.9" fill="none" stroke="#000" stroke-width="1.1"/>
<line x1="1216.2" y1="1459.8" x2="1275.4" y2="1495.9" stroke="#000" stroke-width="1.9"/>
<path d="M1216.2,1472.6 Q1211.6,1471.3 1212.2,1468.8 L1276.2,1505.2 Q1278.0,1507.5 1275.4,1508.7" fill="none" stroke="#000" stroke-width="1.1"/>
<line x1="1216.2" y1="1472.6" x2="1275.4" y2="1508.7" stroke="#000" stroke-width="1.9"/>
<path d="M1216.2,1485.3 Q1211.6,1484.1 1212.2,1481.5 L1276.2,1518.0 Q1278.0,1520.2 1275.4,1521.4" fill="none" stroke="#000" stroke-width="1.1"/>
<line x1="1216.2" y1="1485.3" x2="1275.4" y2="1521.4" stroke="#000" stroke-width="1.9"/>
<path d="M1216.2,1498.1 Q1211.6,1496.8 1212.2,1494.2 L1276.2,1530.8 Q1278.0,1533.0 1275.4,1534.2" fill="none" stroke="#000" stroke-width="1.1"/>
<line x1="1216.2" y1="1498.1" x2="1275.4" y2="1534.2" stroke="#000" stroke-width="1.9"/>
<path d="M1298.8,1494.8 Q1294.2,1493.6 1294.8,1491.0 L1358.8,1527.5 Q1360.6,1529.7 1358.0,1530.9" fill="none" stroke="#000" stroke-width="1.1"/>
<line x1="1298.8" y1="1494.8" x2="1358.0" y2="1530.9" stroke="#000" stroke-width="1.9"/>
<path d="M1298.8,1507.6 Q1294.2,1506.3 1294.8,1503.8 L1358.8,1540.2 Q1360.6,1542.5 1358.0,1543.7" fill="none" stroke="#000" stroke-width="1.1"/>
<line x1="1298.8" y1="1507.6" x2="1358.0" y2="1543.7" stroke="#000" stroke-width="1.9"/>
<path d="M1298.8,1520.3 Q1294.2,1519.1 1294.8,1516.5 L1358.8,1553.0 Q1360.6,1555.2 1358.0,1556.4" fill="none" stroke="#000" stroke-width="1.1"/>
<line x1="1298.8" y1="1520.3" x2="1358.0" y2="1556.4" stroke="#000" stroke-width="1.9"/>
<path d="M1298.8,1533.1 Q1294.2,1531.8 1294.8,1529.2 L1358.8,1565.8 Q1360.6,1568.0 1358.0,1569.2" fill="none" stroke="#000" stroke-width="1.1"/>
<line x1="1298.8" y1="1533.1" x2="1358.0" y2="1569.2" stroke="#000" stroke-width="1.9"/>
<path d="M1298.8,1545.8 Q1294.2,1544.6 1294.8,1542.0 L1358.8,1578.5 Q1360.6,1580.7 1358.0,1581.9" fill="none" stroke="#000" stroke-width="1.1"/>
<line x1="1298.8" y1="1545.8" x2="1358.0" y2="1581.9" stroke="#000" stroke-width="1.9"/>
<path d="M1381.4,1542.6 Q1376.8,1541.3 1377.4,1538.8 L1441.4,1575.2 Q1443.2,1577.5 1440.6,1578.7" fill="none" stroke="#000" stroke-width="1.1"/>
<line x1="1381.4" y1="1542.6" x2="1440.6" y2="1578.7" stroke="#000" stroke-width="1.9"/>
<path d="M1381.4,1555.3 Q1376.8,1554.1 1377.4,1551.5 L1441.4,1588.0 Q1443.2,1590.2 1440.6,1591.4" fill="none" stroke="#000" stroke-width="1.1"/>
<line x1="1381.4" y1="1555.3" x2="1440.6" y2="1591.4" stroke="#000" stroke-width="1.9"/>
<path d="M1381.4,1568.1 Q1376.8,1566.8 1377.4,1564.2 L1441.4,1600.8 Q1443.2,1603.0 1440.6,1604.2" fill="none" stroke="#000" stroke-width="1.1"/>
<line x1="1381.4" y1="1568.1" x2="1440.6" y2="1604.2" stroke="#000" stroke-width="1.9"/>
<path d="M1381.4,1580.8 Q1376.8,1579.6 1377.4,1577.0 L1441.4,1613.5 Q1443.2,1615.7 1440.6,1616.9" fill="none" stroke="#000" stroke-width="1.1"/>
<line x1="1381.4" y1="1580.8" x2="1440.6" y2="1616.9" stroke="#000" stroke-width="1.9"/>
<path d="M1381.4,1593.6 Q1376.8,1592.3 1377.4,1589.8 L1441.4,1626.2 Q1443.2,1628.5 1440.6,1629.7" fill="none" stroke="#000" stroke-width="1.1"/>
<line x1="1381.4" y1="1593.6" x2="1440.6" y2="1629.7" stroke="#000" stroke-width="1.9"/>
<path d="M937,1200.5 Q937,1191 946.6,1191 Q956.25,1191 956.25,1200.5 L956.25,1266 Q956.25,1275.6 946.6,1275.6 Q937,1275.6 937,1266 Z" fill="none" stroke="#000" stroke-width="1.3" stroke-linejoin="round" />
<path d="M939.5,1207 Q939.5,1203 943.5,1203 Q947.5,1203 947.5,1207 L947.5,1265 Q947.5,1269 943.5,1269 Q939.5,1269 939.5,1265 Z" fill="none" stroke="#000" stroke-width="1.3" stroke-linejoin="round" />
<path d="M1448,1495.5 Q1448,1486 1457.7,1486 Q1467.5,1486 1467.5,1495.5 L1467.5,1560.5 Q1467.5,1570 1457.7,1570 Q1448,1570 1448,1560.5 Z" fill="none" stroke="#000" stroke-width="1.3" stroke-linejoin="round" />
<path d="M1450,1501 Q1450,1497 1453.7,1497 Q1457.5,1497 1457.5,1501 L1457.5,1561 Q1457.5,1565 1453.7,1565 Q1450,1565 1450,1561 Z" fill="none" stroke="#000" stroke-width="1.3" stroke-linejoin="round" />
<circle cx="918.1" cy="1101.2" r="1.6" fill="#000" stroke="#000" stroke-width="1.0"/>
<circle cx="918.8" cy="1115.6" r="2.4" fill="none" stroke="#000" stroke-width="1.3"/>
<ellipse cx="920.6" cy="1132.5" rx="4.2" ry="6.0" transform="rotate(-10 920.6 1132.5)" fill="none" stroke="#000" stroke-width="1.6"/>
<ellipse cx="918.5" cy="1181.7" rx="4.2" ry="5.5" transform="rotate(-10 918.5 1181.7)" fill="none" stroke="#000" stroke-width="1.6"/>
<circle cx="918.8" cy="1333.8" r="3.2" fill="none" stroke="#000" stroke-width="1.5"/>
<circle cx="921.9" cy="1358.0" r="2.0" fill="#000" stroke="#000" stroke-width="1.2"/>
<circle cx="1485.0" cy="1426.2" r="1.8" fill="#000" stroke="#000" stroke-width="1.0"/>
<circle cx="1485.0" cy="1440.0" r="2.6" fill="none" stroke="#000" stroke-width="1.4"/>
<ellipse cx="1483.0" cy="1455.0" rx="4.5" ry="6.5" transform="rotate(-15 1483.0 1455.0)" fill="none" stroke="#000" stroke-width="1.6"/>
<ellipse cx="1485.0" cy="1507.5" rx="4.5" ry="6.5" transform="rotate(-15 1485.0 1507.5)" fill="none" stroke="#000" stroke-width="1.6"/>
<circle cx="1485.0" cy="1658.8" r="3.2" fill="none" stroke="#000" stroke-width="1.5"/>
<circle cx="1483.1" cy="1681.9" r="1.8" fill="#000" stroke="#000" stroke-width="1.0"/>
<ellipse cx="1182.4" cy="1508.8" rx="2.5" ry="1.8" transform="rotate(0 1182.4 1508.8)" fill="none" stroke="#000" stroke-width="1.2"/>
<ellipse cx="1222.3" cy="1531.7" rx="2.8" ry="2.0" transform="rotate(0 1222.3 1531.7)" fill="none" stroke="#000" stroke-width="1.2"/>
<polyline points="1169.0,1230.0 1169.0,1236.0 1172.0,1237.5 1172.0,1231.5" fill="none" stroke="#000" stroke-width="1.1" stroke-linejoin="round" />
<polyline points="400.0,1456.2 378.8,1444.4 399.4,1433.1 1013.1,1786.2 1016.0,1789.0 1016.0,1936.5 1011.2,1941.9 1007.0,1941.0 961.2,1915.0 958.8,1913.8 960.0,1921.2 925.6,1938.1 918.8,1936.9 862.5,1903.8 863.1,1901.2 870.0,1895.6 867.5,1893.8 502.5,1682.5 492.5,1683.8 485.0,1685.0 428.8,1651.2 431.2,1645.0 457.0,1631.2 456.9,1625.0 456.2,1622.5 412.0,1597.5" fill="none" stroke="#000" stroke-width="2.0" stroke-linejoin="round" />
<path d="M412,1597.5 Q401,1591 400,1580 L400,1456.25" fill="none" stroke="#000" stroke-width="2.0" stroke-linejoin="round" />
<polyline points="403.0,1455.5 406.0,1452.5 411.0,1452.5 983.8,1783.0" fill="none" stroke="#000" stroke-width="1.2" stroke-linejoin="round" />
<polyline points="425.0,1462.5 418.8,1473.8 961.9,1786.2 968.8,1774.4" fill="none" stroke="#000" stroke-width="1.2" stroke-linejoin="round" />
<polyline points="975.6,1788.8 983.8,1783.0" fill="none" stroke="#000" stroke-width="1.2" stroke-linejoin="round" />
<polyline points="975.6,1788.8 997.5,1800.0 1014.4,1788.0" fill="none" stroke="#000" stroke-width="1.2" stroke-linejoin="round" />
<line x1="457.5" y1="1631.2" x2="957.5" y2="1918.8" stroke="#000" stroke-width="1.2" />
<circle cx="398.8" cy="1445.6" r="2.6" fill="none" stroke="#000" stroke-width="1.6"/>
<ellipse cx="415.6" cy="1461.2" rx="4.3" ry="5.3" transform="rotate(-15 415.6 1461.2)" fill="none" stroke="#000" stroke-width="1.6"/>
<path d="M410.6,1487.5 Q410.6,1483 415,1483 Q419.4,1483 419.4,1487.5 L419.4,1545 Q419.4,1549.4 415,1549.4 Q410.6,1549.4 410.6,1545 Z" fill="none" stroke="#000" stroke-width="1.3" stroke-linejoin="round" />
<line x1="414.5" y1="1490.0" x2="414.5" y2="1545.0" stroke="#000" stroke-width="1.1" />
<polyline points="428.0,1487.5 452.5,1501.5" fill="none" stroke="#000" stroke-width="3.3" stroke-linejoin="round" stroke-dasharray="3,0.8"/>
<circle cx="460.6" cy="1538.0" r="1.8" fill="#000" stroke="#000" stroke-width="1.3"/>
<ellipse cx="428.8" cy="1589.4" rx="3.6" ry="4.4" transform="rotate(-20 428.8 1589.4)" fill="none" stroke="#000" stroke-width="1.7"/>
<rect x="551.3" y="1568.75" width="4.8" height="46.5" fill="#000"/>
<circle cx="608.8" cy="1641.2" r="1.5" fill="#000" stroke="#000" stroke-width="1.0"/>
<ellipse cx="652.5" cy="1643.8" rx="19.5" ry="26.0" transform="rotate(-22 652.5 1643.8)" fill="none" stroke="#000" stroke-width="2.0"/>
<ellipse cx="471.2" cy="1667.5" rx="3.2" ry="2.4" transform="rotate(0 471.2 1667.5)" fill="none" stroke="#000" stroke-width="1.2"/>
<ellipse cx="868.1" cy="1793.1" rx="3.0" ry="4.0" transform="rotate(-20 868.1 1793.1)" fill="none" stroke="#000" stroke-width="1.6"/>
<ellipse cx="911.2" cy="1843.1" rx="18.5" ry="25.0" transform="rotate(-25 911.2 1843.1)" fill="none" stroke="#000" stroke-width="2.0"/>
<polyline points="965.0,1797.5 989.4,1813.8" fill="none" stroke="#000" stroke-width="3.3" stroke-linejoin="round" stroke-dasharray="3,0.8"/>
<ellipse cx="993.1" cy="1788.8" rx="5.0" ry="3.0" transform="rotate(0 993.1 1788.8)" fill="none" stroke="#000" stroke-width="1.3"/>
<polygon points="999.0,1797.0 1003.5,1799.5 1003.5,1805.0 999.0,1803.0" fill="none" stroke="#000" stroke-width="1.4" stroke-linejoin="round" />
<path d="M997.5,1825 Q997.5,1821.9 1002.2,1821.9 Q1006.9,1821.9 1006.9,1826 L1006.9,1885 Q1006.9,1888.75 1002.2,1888.75 Q997.5,1888.75 997.5,1885 Z" fill="none" stroke="#000" stroke-width="1.3" stroke-linejoin="round" />
<line x1="1001.5" y1="1825.0" x2="1001.5" y2="1885.0" stroke="#000" stroke-width="1.1" />
<ellipse cx="988.1" cy="1911.9" rx="4.0" ry="5.5" transform="rotate(-15 988.1 1911.9)" fill="none" stroke="#000" stroke-width="1.7"/>
<ellipse cx="893.1" cy="1911.2" rx="4.5" ry="3.0" transform="rotate(0 893.1 1911.2)" fill="none" stroke="#000" stroke-width="1.2"/>
</svg>
</body></html>
